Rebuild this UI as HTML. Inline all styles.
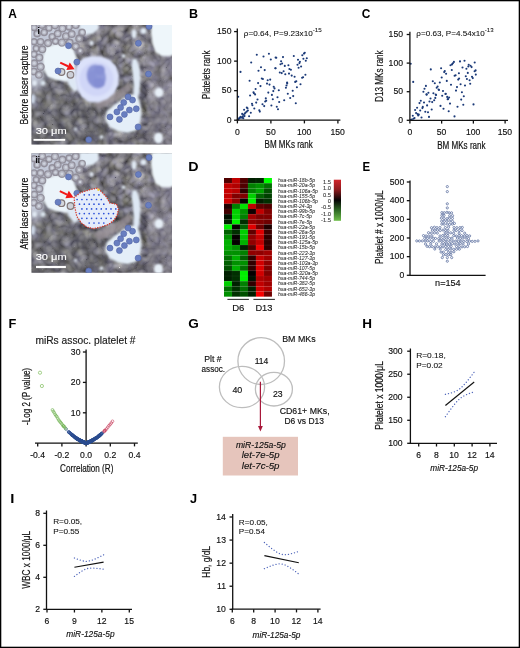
<!DOCTYPE html>
<html><head><meta charset="utf-8"><style>
html,body{margin:0;padding:0;background:#fff;width:520px;height:648px;overflow:hidden}
svg{display:block}
text{font-family:"Liberation Sans",sans-serif}
.tx{will-change:transform}
</style></head><body>
<svg width="520" height="648" viewBox="0 0 520 648" style="will-change:transform">
<rect x="0" y="0" width="520" height="648" fill="#fff"/>
<defs>
<filter id="texMass" x="0" y="0" width="1" height="1" color-interpolation-filters="sRGB">
<feTurbulence type="fractalNoise" baseFrequency="0.12" numOctaves="2" seed="5" result="n0"/>
<feColorMatrix in="n0" type="matrix" values="0.36 0.06 0 0 0.255  0.36 0.06 0 0 0.25  0.38 -0.1 0 0 0.345  0 0 0 0 1" result="n"/>
<feTurbulence type="turbulence" baseFrequency="0.07" numOctaves="2" seed="2" result="t0"/>
<feColorMatrix in="t0" type="matrix" values="1 0 0 0 0  1 0 0 0 0  1 0 0 0 0  0 0 0 0 1" result="t"/>
<feComposite in="n" in2="t" operator="arithmetic" k1="0" k2="1" k3="0.55" k4="-0.14" result="m"/>
<feGaussianBlur stdDeviation="0.5"/>
<feComposite in2="SourceAlpha" operator="in"/>
</filter>
<filter id="blurA" x="-20%" y="-20%" width="140%" height="140%"><feGaussianBlur stdDeviation="2.2"/></filter>
<filter id="blurA2" x="-20%" y="-20%" width="140%" height="140%"><feGaussianBlur stdDeviation="1.3"/></filter>
<filter id="blurC2" x="-20%" y="-20%" width="140%" height="140%"><feGaussianBlur stdDeviation="0.7"/></filter>
<filter id="blurB" x="-20%" y="-20%" width="140%" height="140%"><feGaussianBlur stdDeviation="0.55"/></filter>
<filter id="blurC" x="-20%" y="-20%" width="140%" height="140%"><feGaussianBlur stdDeviation="1.0"/></filter>
<clipPath id="clipA1"><rect x="31.5" y="25" width="140.5" height="119.6"/></clipPath>
<clipPath id="clipA2"><rect x="31.5" y="153.2" width="140.5" height="119.6"/></clipPath>
</defs>
<g clip-path="url(#clipA1)"><g transform="translate(31.5,25)"><rect x="-2" y="-5" width="145" height="131" fill="#000" filter="url(#texMass)"/>
<g filter="url(#blurA)">
<path d="M-5,-5 L48,-5 L50,6 L46,14 L44,22 L30,19 L14,22 L12,34 L12,62 L-5,62 Z" fill="rgb(200,207,222)" fill-opacity="0.95"/>
<path d="M-5,56 L9,55 L15,55 L20,54 L33,55.4 L40,63.5 L46.6,72.9 L56,78.3 L69.5,77 L73,86 L76,96 L76,125 L-5,125 Z" fill="rgb(88,86,98)" fill-opacity="0.28"/>
<path d="M46,-5 L145,-5 L145,125 L76,125 L76,108 L100,110 L114,104 L116,80 L112,60 L96,36 L86,40 L70,33 L52,30 L46,22 Z" fill="rgb(130,126,140)" fill-opacity="0.12"/>
<path d="M112,30 L145,30 L145,125 L112,125 L116,100 L116,80 Z" fill="rgb(150,148,170)" fill-opacity="0.25"/>
</g>
<g filter="url(#blurA2)">
<path d="M14,22 L24,19 L34,20 L42,24 L45,32 L44,40 L45,48 L44,56 L34,56.5 L24,55 L16,52 L12,44 L11,32 Z" fill="rgb(236,244,250)"/>
<path d="M34,48 L44,45 L46,56 L47,64 L43,67 L37,60 Z" fill="rgb(222,232,244)"/>
<path d="M48,-5 L67,-5 L67,4 L61,9 L52,10 L48,5 Z" fill="rgb(226,236,246)"/>
<path d="M120,-5 L145,-5 L145,29 L138,31 L130,31 L124,27 L121,19 L119.5,8 Z" fill="rgb(238,246,250)"/>
<path d="M101,34 L105,34 L108,42 L109,54 L108,66 L106,75 L102,74 L102,60 L101,48 L100,40 Z" fill="rgb(222,232,244)"/>
<ellipse cx="102.5" cy="9" rx="2.5" ry="4.5" fill="rgb(225,234,244)"/>
<ellipse cx="112" cy="6" rx="3" ry="3" fill="rgb(225,234,244)"/>
<path d="M75,86 L84,79 L92,73 L100,69 L106,71 L109,79 L110,90 L108,100 L104,106 L96,108 L86,106 L78,102 L74,95 Z" fill="rgb(228,238,248)"/>
<ellipse cx="127.5" cy="67.5" rx="4.5" ry="5" fill="rgb(232,240,248)"/>
<ellipse cx="127" cy="113" rx="4.5" ry="5.5" fill="rgb(232,240,248)"/>
<ellipse cx="1.5" cy="74" rx="2.5" ry="5" fill="rgb(205,215,230)"/>
<ellipse cx="11.5" cy="58" rx="2.5" ry="2.5" fill="rgb(220,230,240)"/>
<ellipse cx="3" cy="58" rx="2.5" ry="3" fill="rgb(226,234,244)"/>
<ellipse cx="20" cy="3" rx="2" ry="2" fill="rgb(226,234,244)"/>
<ellipse cx="60" cy="18" rx="2" ry="2.5" fill="rgb(226,234,244)"/>
<ellipse cx="92" cy="31" rx="2" ry="2" fill="rgb(226,234,244)"/>
<ellipse cx="70" cy="112" rx="2" ry="2" fill="rgb(226,234,244)"/>
<ellipse cx="44" cy="104" rx="1.5" ry="1.5" fill="rgb(226,234,244)"/>
<path d="M62,78 L74,72 L88,64 L97,58 L101,63 L92,71 L80,78 L68,84 Z" fill="rgb(152,144,150)" fill-opacity="0.75"/>
</g>
<g filter="url(#blurB)">
<circle cx="2.6" cy="2.6" r="3.1" fill="rgb(178,178,190)" fill-opacity="0.7" stroke="rgb(140,136,148)" stroke-width="1.4" stroke-opacity="0.85"/>
<circle cx="2.6" cy="2.6" r="1.2" fill="rgb(212,216,226)" fill-opacity="0.85"/>
<circle cx="10.7" cy="-0.0" r="3.3" fill="rgb(178,178,190)" fill-opacity="0.7" stroke="rgb(140,136,148)" stroke-width="1.4" stroke-opacity="0.85"/>
<circle cx="10.7" cy="-0.0" r="1.3" fill="rgb(212,216,226)" fill-opacity="0.85"/>
<circle cx="17.4" cy="3.0" r="3.1" fill="rgb(178,178,190)" fill-opacity="0.7" stroke="rgb(140,136,148)" stroke-width="1.4" stroke-opacity="0.85"/>
<circle cx="17.4" cy="3.0" r="1.3" fill="rgb(212,216,226)" fill-opacity="0.85"/>
<circle cx="23.5" cy="0.3" r="3.4" fill="rgb(178,178,190)" fill-opacity="0.7" stroke="rgb(140,136,148)" stroke-width="1.4" stroke-opacity="0.85"/>
<circle cx="23.5" cy="0.3" r="1.3" fill="rgb(212,216,226)" fill-opacity="0.85"/>
<circle cx="30.9" cy="3.5" r="3.4" fill="rgb(178,178,190)" fill-opacity="0.7" stroke="rgb(140,136,148)" stroke-width="1.4" stroke-opacity="0.85"/>
<circle cx="30.9" cy="3.5" r="1.4" fill="rgb(212,216,226)" fill-opacity="0.85"/>
<circle cx="37.6" cy="1.9" r="3.1" fill="rgb(178,178,190)" fill-opacity="0.7" stroke="rgb(140,136,148)" stroke-width="1.4" stroke-opacity="0.85"/>
<circle cx="37.6" cy="1.9" r="1.3" fill="rgb(212,216,226)" fill-opacity="0.85"/>
<circle cx="44.2" cy="0.1" r="3.3" fill="rgb(178,178,190)" fill-opacity="0.7" stroke="rgb(140,136,148)" stroke-width="1.4" stroke-opacity="0.85"/>
<circle cx="44.2" cy="0.1" r="1.3" fill="rgb(212,216,226)" fill-opacity="0.85"/>
<circle cx="5.6" cy="8.7" r="3.1" fill="rgb(178,178,190)" fill-opacity="0.7" stroke="rgb(140,136,148)" stroke-width="1.4" stroke-opacity="0.85"/>
<circle cx="5.6" cy="8.7" r="1.3" fill="rgb(212,216,226)" fill-opacity="0.85"/>
<circle cx="12.7" cy="7.4" r="3.1" fill="rgb(178,178,190)" fill-opacity="0.7" stroke="rgb(140,136,148)" stroke-width="1.4" stroke-opacity="0.85"/>
<circle cx="12.7" cy="7.4" r="1.2" fill="rgb(212,216,226)" fill-opacity="0.85"/>
<circle cx="20.7" cy="11.7" r="3.1" fill="rgb(178,178,190)" fill-opacity="0.7" stroke="rgb(140,136,148)" stroke-width="1.4" stroke-opacity="0.85"/>
<circle cx="20.7" cy="11.7" r="1.2" fill="rgb(212,216,226)" fill-opacity="0.85"/>
<circle cx="26.2" cy="8.5" r="3.3" fill="rgb(178,178,190)" fill-opacity="0.7" stroke="rgb(140,136,148)" stroke-width="1.4" stroke-opacity="0.85"/>
<circle cx="26.2" cy="8.5" r="1.3" fill="rgb(212,216,226)" fill-opacity="0.85"/>
<circle cx="34.4" cy="11.2" r="3.3" fill="rgb(178,178,190)" fill-opacity="0.7" stroke="rgb(140,136,148)" stroke-width="1.4" stroke-opacity="0.85"/>
<circle cx="34.4" cy="11.2" r="1.3" fill="rgb(212,216,226)" fill-opacity="0.85"/>
<circle cx="40.2" cy="9.0" r="3.3" fill="rgb(178,178,190)" fill-opacity="0.7" stroke="rgb(140,136,148)" stroke-width="1.4" stroke-opacity="0.85"/>
<circle cx="40.2" cy="9.0" r="1.3" fill="rgb(212,216,226)" fill-opacity="0.85"/>
<circle cx="47.8" cy="13.6" r="3.4" fill="rgb(178,178,190)" fill-opacity="0.7" stroke="rgb(140,136,148)" stroke-width="1.4" stroke-opacity="0.85"/>
<circle cx="47.8" cy="13.6" r="1.4" fill="rgb(212,216,226)" fill-opacity="0.85"/>
<circle cx="2.6" cy="16.7" r="3.0" fill="rgb(178,178,190)" fill-opacity="0.7" stroke="rgb(140,136,148)" stroke-width="1.4" stroke-opacity="0.85"/>
<circle cx="2.6" cy="16.7" r="1.2" fill="rgb(212,216,226)" fill-opacity="0.85"/>
<circle cx="9.0" cy="16.8" r="3.2" fill="rgb(178,178,190)" fill-opacity="0.7" stroke="rgb(140,136,148)" stroke-width="1.4" stroke-opacity="0.85"/>
<circle cx="9.0" cy="16.8" r="1.3" fill="rgb(212,216,226)" fill-opacity="0.85"/>
<circle cx="16.5" cy="18.1" r="3.4" fill="rgb(178,178,190)" fill-opacity="0.7" stroke="rgb(140,136,148)" stroke-width="1.4" stroke-opacity="0.85"/>
<circle cx="16.5" cy="18.1" r="1.4" fill="rgb(212,216,226)" fill-opacity="0.85"/>
<circle cx="24.0" cy="16.2" r="3.0" fill="rgb(178,178,190)" fill-opacity="0.7" stroke="rgb(140,136,148)" stroke-width="1.4" stroke-opacity="0.85"/>
<circle cx="24.0" cy="16.2" r="1.2" fill="rgb(212,216,226)" fill-opacity="0.85"/>
<circle cx="30.4" cy="17.6" r="3.5" fill="rgb(178,178,190)" fill-opacity="0.7" stroke="rgb(140,136,148)" stroke-width="1.4" stroke-opacity="0.85"/>
<circle cx="30.4" cy="17.6" r="1.4" fill="rgb(212,216,226)" fill-opacity="0.85"/>
<circle cx="38.2" cy="17.5" r="3.3" fill="rgb(178,178,190)" fill-opacity="0.7" stroke="rgb(140,136,148)" stroke-width="1.4" stroke-opacity="0.85"/>
<circle cx="38.2" cy="17.5" r="1.3" fill="rgb(212,216,226)" fill-opacity="0.85"/>
<circle cx="44.2" cy="21.5" r="3.5" fill="rgb(178,178,190)" fill-opacity="0.7" stroke="rgb(140,136,148)" stroke-width="1.4" stroke-opacity="0.85"/>
<circle cx="44.2" cy="21.5" r="1.4" fill="rgb(212,216,226)" fill-opacity="0.85"/>
<circle cx="4.7" cy="23.5" r="3.0" fill="rgb(178,178,190)" fill-opacity="0.7" stroke="rgb(140,136,148)" stroke-width="1.4" stroke-opacity="0.85"/>
<circle cx="4.7" cy="23.5" r="1.2" fill="rgb(212,216,226)" fill-opacity="0.85"/>
<circle cx="10.8" cy="24.3" r="3.3" fill="rgb(178,178,190)" fill-opacity="0.7" stroke="rgb(140,136,148)" stroke-width="1.4" stroke-opacity="0.85"/>
<circle cx="10.8" cy="24.3" r="1.3" fill="rgb(212,216,226)" fill-opacity="0.85"/>
<circle cx="2.5" cy="29.3" r="3.1" fill="rgb(178,178,190)" fill-opacity="0.7" stroke="rgb(140,136,148)" stroke-width="1.4" stroke-opacity="0.85"/>
<circle cx="2.5" cy="29.3" r="1.2" fill="rgb(212,216,226)" fill-opacity="0.85"/>
<circle cx="7.8" cy="32.6" r="3.4" fill="rgb(178,178,190)" fill-opacity="0.7" stroke="rgb(140,136,148)" stroke-width="1.4" stroke-opacity="0.85"/>
<circle cx="7.8" cy="32.6" r="1.4" fill="rgb(212,216,226)" fill-opacity="0.85"/>
<circle cx="2.8" cy="38.2" r="3.2" fill="rgb(178,178,190)" fill-opacity="0.7" stroke="rgb(140,136,148)" stroke-width="1.4" stroke-opacity="0.85"/>
<circle cx="2.8" cy="38.2" r="1.3" fill="rgb(212,216,226)" fill-opacity="0.85"/>
<circle cx="9.1" cy="41.7" r="3.5" fill="rgb(178,178,190)" fill-opacity="0.7" stroke="rgb(140,136,148)" stroke-width="1.4" stroke-opacity="0.85"/>
<circle cx="9.1" cy="41.7" r="1.4" fill="rgb(212,216,226)" fill-opacity="0.85"/>
<circle cx="2.4" cy="46.5" r="3.2" fill="rgb(178,178,190)" fill-opacity="0.7" stroke="rgb(140,136,148)" stroke-width="1.4" stroke-opacity="0.85"/>
<circle cx="2.4" cy="46.5" r="1.3" fill="rgb(212,216,226)" fill-opacity="0.85"/>
<circle cx="7.4" cy="49.8" r="3.3" fill="rgb(178,178,190)" fill-opacity="0.7" stroke="rgb(140,136,148)" stroke-width="1.4" stroke-opacity="0.85"/>
<circle cx="7.4" cy="49.8" r="1.3" fill="rgb(212,216,226)" fill-opacity="0.85"/>
<circle cx="48.7" cy="25.8" r="3.0" fill="rgb(178,178,190)" fill-opacity="0.7" stroke="rgb(140,136,148)" stroke-width="1.4" stroke-opacity="0.85"/>
<circle cx="48.7" cy="25.8" r="1.2" fill="rgb(212,216,226)" fill-opacity="0.85"/>
<circle cx="50.6" cy="7.4" r="3.2" fill="rgb(178,178,190)" fill-opacity="0.7" stroke="rgb(140,136,148)" stroke-width="1.4" stroke-opacity="0.85"/>
<circle cx="50.6" cy="7.4" r="1.3" fill="rgb(212,216,226)" fill-opacity="0.85"/>
<circle cx="39" cy="49.8" r="3.3" fill="rgb(190,185,190)" fill-opacity="0.5" stroke="rgb(130,118,118)" stroke-width="1.2"/>
<circle cx="30" cy="47" r="3.3" fill="rgb(190,185,190)" fill-opacity="0.5" stroke="rgb(130,118,118)" stroke-width="1.2"/>
</g>
<g filter="url(#blurC)">
<path d="M46,38 L52,33 L60,31 L70,31.5 L79,35 L85,42 L87.5,50 L87,60 L83,68 L76,74 L67,77.5 L57,77 L50,72 L45.5,64 L43.5,54 L44,45 Z" fill="rgb(220,226,250)"/>
<ellipse cx="65" cy="54" rx="17" ry="17" fill="rgb(208,214,247)"/>
<ellipse cx="64.8" cy="51.5" rx="9.6" ry="12.2" transform="rotate(-15 64.8 51.5)" fill="rgb(142,152,216)"/>
<ellipse cx="68" cy="45" rx="5.5" ry="5" fill="rgb(134,144,212)"/>
<ellipse cx="60.5" cy="52" rx="4.5" ry="6.5" fill="rgb(136,146,213)"/>
<ellipse cx="67.5" cy="58" rx="6" ry="5" fill="rgb(132,142,211)"/>
</g>
<g filter="url(#blurC2)">
<circle cx="101" cy="75" r="3.0" fill="rgb(104,126,192)" stroke="rgb(84,100,165)" stroke-width="0.6"/>
<circle cx="92.25" cy="77.5" r="3.0" fill="rgb(104,126,192)" stroke="rgb(84,100,165)" stroke-width="0.6"/>
<circle cx="89.1" cy="82.5" r="3.0" fill="rgb(104,126,192)" stroke="rgb(84,100,165)" stroke-width="0.6"/>
<circle cx="85.4" cy="86.9" r="3.0" fill="rgb(104,126,192)" stroke="rgb(84,100,165)" stroke-width="0.6"/>
<circle cx="97.9" cy="85" r="3.0" fill="rgb(104,126,192)" stroke="rgb(84,100,165)" stroke-width="0.6"/>
<circle cx="104.75" cy="83.75" r="3.0" fill="rgb(104,126,192)" stroke="rgb(84,100,165)" stroke-width="0.6"/>
<circle cx="92.9" cy="89.4" r="3.0" fill="rgb(104,126,192)" stroke="rgb(84,100,165)" stroke-width="0.6"/>
<circle cx="78.5" cy="91.9" r="3.0" fill="rgb(104,126,192)" stroke="rgb(84,100,165)" stroke-width="0.6"/>
<circle cx="87.9" cy="94.4" r="3.0" fill="rgb(104,126,192)" stroke="rgb(84,100,165)" stroke-width="0.6"/>
<circle cx="106.6" cy="101.9" r="3.0" fill="rgb(104,126,192)" stroke="rgb(84,100,165)" stroke-width="0.6"/>
<circle cx="96.6" cy="71.9" r="3.0" fill="rgb(104,126,192)" stroke="rgb(84,100,165)" stroke-width="0.6"/>
<circle cx="37" cy="20.7" r="3.0" fill="rgb(104,126,192)" stroke="rgb(84,100,165)" stroke-width="0.6"/>
<circle cx="45.3" cy="37.1" r="3.0" fill="rgb(104,126,192)" stroke="rgb(84,100,165)" stroke-width="0.6"/>
<circle cx="117" cy="49" r="3.0" fill="rgb(104,126,192)" stroke="rgb(84,100,165)" stroke-width="0.6"/>
<circle cx="57.2" cy="114.7" r="3.0" fill="rgb(104,126,192)" stroke="rgb(84,100,165)" stroke-width="0.6"/>
<circle cx="117.5" cy="1.4" r="3.0" fill="rgb(104,126,192)" stroke="rgb(84,100,165)" stroke-width="0.6"/>
<circle cx="106.9" cy="18.3" r="3.0" fill="rgb(104,126,192)" stroke="rgb(84,100,165)" stroke-width="0.6"/>
<circle cx="26.5" cy="46" r="3.0" fill="rgb(104,126,192)" stroke="rgb(84,100,165)" stroke-width="0.6"/>
</g></g></g>
<g clip-path="url(#clipA2)"><g transform="translate(31.5,156.2)"><rect x="-2" y="-5" width="145" height="131" fill="#000" filter="url(#texMass)"/>
<g filter="url(#blurA)">
<path d="M-5,-5 L48,-5 L50,6 L46,14 L44,22 L30,19 L14,22 L12,34 L12,62 L-5,62 Z" fill="rgb(200,207,222)" fill-opacity="0.95"/>
<path d="M-5,56 L9,55 L15,55 L20,54 L33,55.4 L40,63.5 L46.6,72.9 L56,78.3 L69.5,77 L73,86 L76,96 L76,125 L-5,125 Z" fill="rgb(88,86,98)" fill-opacity="0.28"/>
<path d="M46,-5 L145,-5 L145,125 L76,125 L76,108 L100,110 L114,104 L116,80 L112,60 L96,36 L86,40 L70,33 L52,30 L46,22 Z" fill="rgb(130,126,140)" fill-opacity="0.12"/>
<path d="M112,30 L145,30 L145,125 L112,125 L116,100 L116,80 Z" fill="rgb(150,148,170)" fill-opacity="0.25"/>
</g>
<g filter="url(#blurA2)">
<path d="M14,22 L24,19 L34,20 L42,24 L45,32 L44,40 L45,48 L44,56 L34,56.5 L24,55 L16,52 L12,44 L11,32 Z" fill="rgb(236,244,250)"/>
<path d="M34,48 L44,45 L46,56 L47,64 L43,67 L37,60 Z" fill="rgb(222,232,244)"/>
<path d="M48,-5 L67,-5 L67,4 L61,9 L52,10 L48,5 Z" fill="rgb(226,236,246)"/>
<path d="M120,-5 L145,-5 L145,29 L138,31 L130,31 L124,27 L121,19 L119.5,8 Z" fill="rgb(238,246,250)"/>
<path d="M101,34 L105,34 L108,42 L109,54 L108,66 L106,75 L102,74 L102,60 L101,48 L100,40 Z" fill="rgb(222,232,244)"/>
<ellipse cx="102.5" cy="9" rx="2.5" ry="4.5" fill="rgb(225,234,244)"/>
<ellipse cx="112" cy="6" rx="3" ry="3" fill="rgb(225,234,244)"/>
<path d="M75,86 L84,79 L92,73 L100,69 L106,71 L109,79 L110,90 L108,100 L104,106 L96,108 L86,106 L78,102 L74,95 Z" fill="rgb(228,238,248)"/>
<ellipse cx="127.5" cy="67.5" rx="4.5" ry="5" fill="rgb(232,240,248)"/>
<ellipse cx="127" cy="113" rx="4.5" ry="5.5" fill="rgb(232,240,248)"/>
<ellipse cx="1.5" cy="74" rx="2.5" ry="5" fill="rgb(205,215,230)"/>
<ellipse cx="11.5" cy="58" rx="2.5" ry="2.5" fill="rgb(220,230,240)"/>
<ellipse cx="3" cy="58" rx="2.5" ry="3" fill="rgb(226,234,244)"/>
<ellipse cx="20" cy="3" rx="2" ry="2" fill="rgb(226,234,244)"/>
<ellipse cx="60" cy="18" rx="2" ry="2.5" fill="rgb(226,234,244)"/>
<ellipse cx="92" cy="31" rx="2" ry="2" fill="rgb(226,234,244)"/>
<ellipse cx="70" cy="112" rx="2" ry="2" fill="rgb(226,234,244)"/>
<ellipse cx="44" cy="104" rx="1.5" ry="1.5" fill="rgb(226,234,244)"/>
<path d="M62,78 L74,72 L88,64 L97,58 L101,63 L92,71 L80,78 L68,84 Z" fill="rgb(152,144,150)" fill-opacity="0.75"/>
</g>
<g filter="url(#blurB)">
<circle cx="2.6" cy="2.6" r="3.1" fill="rgb(178,178,190)" fill-opacity="0.7" stroke="rgb(140,136,148)" stroke-width="1.4" stroke-opacity="0.85"/>
<circle cx="2.6" cy="2.6" r="1.2" fill="rgb(212,216,226)" fill-opacity="0.85"/>
<circle cx="10.7" cy="-0.0" r="3.3" fill="rgb(178,178,190)" fill-opacity="0.7" stroke="rgb(140,136,148)" stroke-width="1.4" stroke-opacity="0.85"/>
<circle cx="10.7" cy="-0.0" r="1.3" fill="rgb(212,216,226)" fill-opacity="0.85"/>
<circle cx="17.4" cy="3.0" r="3.1" fill="rgb(178,178,190)" fill-opacity="0.7" stroke="rgb(140,136,148)" stroke-width="1.4" stroke-opacity="0.85"/>
<circle cx="17.4" cy="3.0" r="1.3" fill="rgb(212,216,226)" fill-opacity="0.85"/>
<circle cx="23.5" cy="0.3" r="3.4" fill="rgb(178,178,190)" fill-opacity="0.7" stroke="rgb(140,136,148)" stroke-width="1.4" stroke-opacity="0.85"/>
<circle cx="23.5" cy="0.3" r="1.3" fill="rgb(212,216,226)" fill-opacity="0.85"/>
<circle cx="30.9" cy="3.5" r="3.4" fill="rgb(178,178,190)" fill-opacity="0.7" stroke="rgb(140,136,148)" stroke-width="1.4" stroke-opacity="0.85"/>
<circle cx="30.9" cy="3.5" r="1.4" fill="rgb(212,216,226)" fill-opacity="0.85"/>
<circle cx="37.6" cy="1.9" r="3.1" fill="rgb(178,178,190)" fill-opacity="0.7" stroke="rgb(140,136,148)" stroke-width="1.4" stroke-opacity="0.85"/>
<circle cx="37.6" cy="1.9" r="1.3" fill="rgb(212,216,226)" fill-opacity="0.85"/>
<circle cx="44.2" cy="0.1" r="3.3" fill="rgb(178,178,190)" fill-opacity="0.7" stroke="rgb(140,136,148)" stroke-width="1.4" stroke-opacity="0.85"/>
<circle cx="44.2" cy="0.1" r="1.3" fill="rgb(212,216,226)" fill-opacity="0.85"/>
<circle cx="5.6" cy="8.7" r="3.1" fill="rgb(178,178,190)" fill-opacity="0.7" stroke="rgb(140,136,148)" stroke-width="1.4" stroke-opacity="0.85"/>
<circle cx="5.6" cy="8.7" r="1.3" fill="rgb(212,216,226)" fill-opacity="0.85"/>
<circle cx="12.7" cy="7.4" r="3.1" fill="rgb(178,178,190)" fill-opacity="0.7" stroke="rgb(140,136,148)" stroke-width="1.4" stroke-opacity="0.85"/>
<circle cx="12.7" cy="7.4" r="1.2" fill="rgb(212,216,226)" fill-opacity="0.85"/>
<circle cx="20.7" cy="11.7" r="3.1" fill="rgb(178,178,190)" fill-opacity="0.7" stroke="rgb(140,136,148)" stroke-width="1.4" stroke-opacity="0.85"/>
<circle cx="20.7" cy="11.7" r="1.2" fill="rgb(212,216,226)" fill-opacity="0.85"/>
<circle cx="26.2" cy="8.5" r="3.3" fill="rgb(178,178,190)" fill-opacity="0.7" stroke="rgb(140,136,148)" stroke-width="1.4" stroke-opacity="0.85"/>
<circle cx="26.2" cy="8.5" r="1.3" fill="rgb(212,216,226)" fill-opacity="0.85"/>
<circle cx="34.4" cy="11.2" r="3.3" fill="rgb(178,178,190)" fill-opacity="0.7" stroke="rgb(140,136,148)" stroke-width="1.4" stroke-opacity="0.85"/>
<circle cx="34.4" cy="11.2" r="1.3" fill="rgb(212,216,226)" fill-opacity="0.85"/>
<circle cx="40.2" cy="9.0" r="3.3" fill="rgb(178,178,190)" fill-opacity="0.7" stroke="rgb(140,136,148)" stroke-width="1.4" stroke-opacity="0.85"/>
<circle cx="40.2" cy="9.0" r="1.3" fill="rgb(212,216,226)" fill-opacity="0.85"/>
<circle cx="47.8" cy="13.6" r="3.4" fill="rgb(178,178,190)" fill-opacity="0.7" stroke="rgb(140,136,148)" stroke-width="1.4" stroke-opacity="0.85"/>
<circle cx="47.8" cy="13.6" r="1.4" fill="rgb(212,216,226)" fill-opacity="0.85"/>
<circle cx="2.6" cy="16.7" r="3.0" fill="rgb(178,178,190)" fill-opacity="0.7" stroke="rgb(140,136,148)" stroke-width="1.4" stroke-opacity="0.85"/>
<circle cx="2.6" cy="16.7" r="1.2" fill="rgb(212,216,226)" fill-opacity="0.85"/>
<circle cx="9.0" cy="16.8" r="3.2" fill="rgb(178,178,190)" fill-opacity="0.7" stroke="rgb(140,136,148)" stroke-width="1.4" stroke-opacity="0.85"/>
<circle cx="9.0" cy="16.8" r="1.3" fill="rgb(212,216,226)" fill-opacity="0.85"/>
<circle cx="16.5" cy="18.1" r="3.4" fill="rgb(178,178,190)" fill-opacity="0.7" stroke="rgb(140,136,148)" stroke-width="1.4" stroke-opacity="0.85"/>
<circle cx="16.5" cy="18.1" r="1.4" fill="rgb(212,216,226)" fill-opacity="0.85"/>
<circle cx="24.0" cy="16.2" r="3.0" fill="rgb(178,178,190)" fill-opacity="0.7" stroke="rgb(140,136,148)" stroke-width="1.4" stroke-opacity="0.85"/>
<circle cx="24.0" cy="16.2" r="1.2" fill="rgb(212,216,226)" fill-opacity="0.85"/>
<circle cx="30.4" cy="17.6" r="3.5" fill="rgb(178,178,190)" fill-opacity="0.7" stroke="rgb(140,136,148)" stroke-width="1.4" stroke-opacity="0.85"/>
<circle cx="30.4" cy="17.6" r="1.4" fill="rgb(212,216,226)" fill-opacity="0.85"/>
<circle cx="38.2" cy="17.5" r="3.3" fill="rgb(178,178,190)" fill-opacity="0.7" stroke="rgb(140,136,148)" stroke-width="1.4" stroke-opacity="0.85"/>
<circle cx="38.2" cy="17.5" r="1.3" fill="rgb(212,216,226)" fill-opacity="0.85"/>
<circle cx="44.2" cy="21.5" r="3.5" fill="rgb(178,178,190)" fill-opacity="0.7" stroke="rgb(140,136,148)" stroke-width="1.4" stroke-opacity="0.85"/>
<circle cx="44.2" cy="21.5" r="1.4" fill="rgb(212,216,226)" fill-opacity="0.85"/>
<circle cx="4.7" cy="23.5" r="3.0" fill="rgb(178,178,190)" fill-opacity="0.7" stroke="rgb(140,136,148)" stroke-width="1.4" stroke-opacity="0.85"/>
<circle cx="4.7" cy="23.5" r="1.2" fill="rgb(212,216,226)" fill-opacity="0.85"/>
<circle cx="10.8" cy="24.3" r="3.3" fill="rgb(178,178,190)" fill-opacity="0.7" stroke="rgb(140,136,148)" stroke-width="1.4" stroke-opacity="0.85"/>
<circle cx="10.8" cy="24.3" r="1.3" fill="rgb(212,216,226)" fill-opacity="0.85"/>
<circle cx="2.5" cy="29.3" r="3.1" fill="rgb(178,178,190)" fill-opacity="0.7" stroke="rgb(140,136,148)" stroke-width="1.4" stroke-opacity="0.85"/>
<circle cx="2.5" cy="29.3" r="1.2" fill="rgb(212,216,226)" fill-opacity="0.85"/>
<circle cx="7.8" cy="32.6" r="3.4" fill="rgb(178,178,190)" fill-opacity="0.7" stroke="rgb(140,136,148)" stroke-width="1.4" stroke-opacity="0.85"/>
<circle cx="7.8" cy="32.6" r="1.4" fill="rgb(212,216,226)" fill-opacity="0.85"/>
<circle cx="2.8" cy="38.2" r="3.2" fill="rgb(178,178,190)" fill-opacity="0.7" stroke="rgb(140,136,148)" stroke-width="1.4" stroke-opacity="0.85"/>
<circle cx="2.8" cy="38.2" r="1.3" fill="rgb(212,216,226)" fill-opacity="0.85"/>
<circle cx="9.1" cy="41.7" r="3.5" fill="rgb(178,178,190)" fill-opacity="0.7" stroke="rgb(140,136,148)" stroke-width="1.4" stroke-opacity="0.85"/>
<circle cx="9.1" cy="41.7" r="1.4" fill="rgb(212,216,226)" fill-opacity="0.85"/>
<circle cx="2.4" cy="46.5" r="3.2" fill="rgb(178,178,190)" fill-opacity="0.7" stroke="rgb(140,136,148)" stroke-width="1.4" stroke-opacity="0.85"/>
<circle cx="2.4" cy="46.5" r="1.3" fill="rgb(212,216,226)" fill-opacity="0.85"/>
<circle cx="7.4" cy="49.8" r="3.3" fill="rgb(178,178,190)" fill-opacity="0.7" stroke="rgb(140,136,148)" stroke-width="1.4" stroke-opacity="0.85"/>
<circle cx="7.4" cy="49.8" r="1.3" fill="rgb(212,216,226)" fill-opacity="0.85"/>
<circle cx="48.7" cy="25.8" r="3.0" fill="rgb(178,178,190)" fill-opacity="0.7" stroke="rgb(140,136,148)" stroke-width="1.4" stroke-opacity="0.85"/>
<circle cx="48.7" cy="25.8" r="1.2" fill="rgb(212,216,226)" fill-opacity="0.85"/>
<circle cx="50.6" cy="7.4" r="3.2" fill="rgb(178,178,190)" fill-opacity="0.7" stroke="rgb(140,136,148)" stroke-width="1.4" stroke-opacity="0.85"/>
<circle cx="50.6" cy="7.4" r="1.3" fill="rgb(212,216,226)" fill-opacity="0.85"/>
<circle cx="39" cy="49.8" r="3.3" fill="rgb(190,185,190)" fill-opacity="0.5" stroke="rgb(130,118,118)" stroke-width="1.2"/>
<circle cx="30" cy="47" r="3.3" fill="rgb(190,185,190)" fill-opacity="0.5" stroke="rgb(130,118,118)" stroke-width="1.2"/>
</g>
<g filter="url(#blurC2)">
<circle cx="101" cy="75" r="3.0" fill="rgb(104,126,192)" stroke="rgb(84,100,165)" stroke-width="0.6"/>
<circle cx="92.25" cy="77.5" r="3.0" fill="rgb(104,126,192)" stroke="rgb(84,100,165)" stroke-width="0.6"/>
<circle cx="89.1" cy="82.5" r="3.0" fill="rgb(104,126,192)" stroke="rgb(84,100,165)" stroke-width="0.6"/>
<circle cx="85.4" cy="86.9" r="3.0" fill="rgb(104,126,192)" stroke="rgb(84,100,165)" stroke-width="0.6"/>
<circle cx="97.9" cy="85" r="3.0" fill="rgb(104,126,192)" stroke="rgb(84,100,165)" stroke-width="0.6"/>
<circle cx="104.75" cy="83.75" r="3.0" fill="rgb(104,126,192)" stroke="rgb(84,100,165)" stroke-width="0.6"/>
<circle cx="92.9" cy="89.4" r="3.0" fill="rgb(104,126,192)" stroke="rgb(84,100,165)" stroke-width="0.6"/>
<circle cx="78.5" cy="91.9" r="3.0" fill="rgb(104,126,192)" stroke="rgb(84,100,165)" stroke-width="0.6"/>
<circle cx="87.9" cy="94.4" r="3.0" fill="rgb(104,126,192)" stroke="rgb(84,100,165)" stroke-width="0.6"/>
<circle cx="106.6" cy="101.9" r="3.0" fill="rgb(104,126,192)" stroke="rgb(84,100,165)" stroke-width="0.6"/>
<circle cx="96.6" cy="71.9" r="3.0" fill="rgb(104,126,192)" stroke="rgb(84,100,165)" stroke-width="0.6"/>
<circle cx="37" cy="20.7" r="3.0" fill="rgb(104,126,192)" stroke="rgb(84,100,165)" stroke-width="0.6"/>
<circle cx="45.3" cy="37.1" r="3.0" fill="rgb(104,126,192)" stroke="rgb(84,100,165)" stroke-width="0.6"/>
<circle cx="117" cy="49" r="3.0" fill="rgb(104,126,192)" stroke="rgb(84,100,165)" stroke-width="0.6"/>
<circle cx="57.2" cy="114.7" r="3.0" fill="rgb(104,126,192)" stroke="rgb(84,100,165)" stroke-width="0.6"/>
<circle cx="117.5" cy="1.4" r="3.0" fill="rgb(104,126,192)" stroke="rgb(84,100,165)" stroke-width="0.6"/>
<circle cx="106.9" cy="18.3" r="3.0" fill="rgb(104,126,192)" stroke="rgb(84,100,165)" stroke-width="0.6"/>
<circle cx="26.5" cy="46" r="3.0" fill="rgb(104,126,192)" stroke="rgb(84,100,165)" stroke-width="0.6"/>
</g></g>
<path d="M74.1,197.5 L80.2,192.8 L91,189.4 L97.7,188.1 L100.4,190.8 L105.8,196.2 L109.8,202.9 L116.5,204.2 L118.5,208.9 L117.2,215 L113.8,220.4 L108.5,224.4 L100.4,227.1 L93.6,228.7 L86.9,227.1 L81.5,223.1 L76.8,216.3 L74.8,206.9 Z" fill="rgb(228,236,250)" filter="url(#blurB)"/>
<clipPath id="capclip"><path d="M74.1,197.5 L80.2,192.8 L91,189.4 L97.7,188.1 L100.4,190.8 L105.8,196.2 L109.8,202.9 L116.5,204.2 L118.5,208.9 L117.2,215 L113.8,220.4 L108.5,224.4 L100.4,227.1 L93.6,228.7 L86.9,227.1 L81.5,223.1 L76.8,216.3 L74.8,206.9 Z"/></clipPath>
<g clip-path="url(#capclip)"><circle cx="84.3" cy="194.8" r="0.85" fill="#2a4fd8"/><circle cx="89.2" cy="194.8" r="0.85" fill="#2a4fd8"/><circle cx="94.0" cy="194.8" r="0.85" fill="#2a4fd8"/><circle cx="98.9" cy="194.8" r="0.85" fill="#2a4fd8"/><circle cx="77.1" cy="199.5" r="0.85" fill="#2a4fd8"/><circle cx="81.9" cy="199.5" r="0.85" fill="#2a4fd8"/><circle cx="86.8" cy="199.5" r="0.85" fill="#2a4fd8"/><circle cx="91.6" cy="199.5" r="0.85" fill="#2a4fd8"/><circle cx="96.5" cy="199.5" r="0.85" fill="#2a4fd8"/><circle cx="101.3" cy="199.5" r="0.85" fill="#2a4fd8"/><circle cx="79.5" cy="204.2" r="0.85" fill="#2a4fd8"/><circle cx="84.3" cy="204.2" r="0.85" fill="#2a4fd8"/><circle cx="89.2" cy="204.2" r="0.85" fill="#2a4fd8"/><circle cx="94.0" cy="204.2" r="0.85" fill="#2a4fd8"/><circle cx="98.9" cy="204.2" r="0.85" fill="#2a4fd8"/><circle cx="103.8" cy="204.2" r="0.85" fill="#2a4fd8"/><circle cx="81.9" cy="208.9" r="0.85" fill="#2a4fd8"/><circle cx="86.8" cy="208.9" r="0.85" fill="#2a4fd8"/><circle cx="91.6" cy="208.9" r="0.85" fill="#2a4fd8"/><circle cx="96.5" cy="208.9" r="0.85" fill="#2a4fd8"/><circle cx="101.3" cy="208.9" r="0.85" fill="#2a4fd8"/><circle cx="106.2" cy="208.9" r="0.85" fill="#2a4fd8"/><circle cx="111.0" cy="208.9" r="0.85" fill="#2a4fd8"/><circle cx="115.8" cy="208.9" r="0.85" fill="#2a4fd8"/><circle cx="79.5" cy="213.6" r="0.85" fill="#2a4fd8"/><circle cx="84.3" cy="213.6" r="0.85" fill="#2a4fd8"/><circle cx="89.2" cy="213.6" r="0.85" fill="#2a4fd8"/><circle cx="94.0" cy="213.6" r="0.85" fill="#2a4fd8"/><circle cx="98.9" cy="213.6" r="0.85" fill="#2a4fd8"/><circle cx="103.8" cy="213.6" r="0.85" fill="#2a4fd8"/><circle cx="108.6" cy="213.6" r="0.85" fill="#2a4fd8"/><circle cx="113.4" cy="213.6" r="0.85" fill="#2a4fd8"/><circle cx="81.9" cy="218.3" r="0.85" fill="#2a4fd8"/><circle cx="86.8" cy="218.3" r="0.85" fill="#2a4fd8"/><circle cx="91.6" cy="218.3" r="0.85" fill="#2a4fd8"/><circle cx="96.5" cy="218.3" r="0.85" fill="#2a4fd8"/><circle cx="101.3" cy="218.3" r="0.85" fill="#2a4fd8"/><circle cx="106.2" cy="218.3" r="0.85" fill="#2a4fd8"/><circle cx="111.0" cy="218.3" r="0.85" fill="#2a4fd8"/><circle cx="89.2" cy="223.0" r="0.85" fill="#2a4fd8"/><circle cx="94.0" cy="223.0" r="0.85" fill="#2a4fd8"/><circle cx="98.9" cy="223.0" r="0.85" fill="#2a4fd8"/><circle cx="103.8" cy="223.0" r="0.85" fill="#2a4fd8"/></g>
<path d="M74.1,197.5 L80.2,192.8 L91,189.4 L97.7,188.1 L100.4,190.8 L105.8,196.2 L109.8,202.9 L116.5,204.2 L118.5,208.9 L117.2,215 L113.8,220.4 L108.5,224.4 L100.4,227.1 L93.6,228.7 L86.9,227.1 L81.5,223.1 L76.8,216.3 L74.8,206.9 Z" fill="none" stroke="#d8362a" stroke-width="1.4" stroke-dasharray="0.1 2.4" stroke-linecap="round"/>
<circle cx="98.4" cy="189.7" r="1.2" fill="#f0d040"/>
</g>
<line x1="60.2" y1="62.7" x2="68.04" y2="66.24" stroke="#f21818" stroke-width="2.0"/>
<path d="M74.6,69.2 L66.35,69.97 L69.72,62.50 Z" fill="#f21818"/>
<line x1="59.8" y1="191.2" x2="67.07" y2="194.57" stroke="#f21818" stroke-width="2.0"/>
<path d="M73.6,197.6 L65.34,198.29 L68.79,190.85 Z" fill="#f21818"/>
<text transform="translate(37.60,33.80) scale(1.0000,1)" font-size="8.5" font-weight="bold" fill="#000">i</text>
<text transform="translate(35.44,162.80) scale(0.9286,1)" font-size="8.5" font-weight="bold" fill="#000">ii</text>
<text transform="translate(35.65,133.90) scale(1.1549,1)" font-size="9.6" fill="#fff" stroke="#fff" stroke-width="0.130">30 μm</text>
<rect x="33.5" y="138.9" width="31.7" height="1.9" fill="#fff"/>
<text transform="translate(35.65,259.90) scale(1.1549,1)" font-size="9.6" fill="#fff" stroke="#fff" stroke-width="0.130">30 μm</text>
<rect x="36.0" y="265.9" width="29.9" height="2.2" fill="#fff"/>
<text transform="translate(28.10,124.49) rotate(-90) scale(0.8624,1)" font-size="10.2" fill="#111" stroke="#111" stroke-width="0.174">Before laser capture</text>
<text transform="translate(28.40,249.60) rotate(-90) scale(0.8654,1)" font-size="10.2" fill="#111" stroke="#111" stroke-width="0.173">After laser capture</text>
<text transform="translate(8.32,18.20) scale(0.9205,1)" font-size="13" font-weight="bold" fill="#000">A</text>
<text transform="translate(189.03,18.20) scale(0.9625,1)" font-size="13" font-weight="bold" fill="#000">B</text>
<text transform="translate(361.64,18.20) scale(0.9186,1)" font-size="13" font-weight="bold" fill="#000">C</text>
<text transform="translate(188.32,171.20) scale(1.0988,1)" font-size="13" font-weight="bold" fill="#000">D</text>
<text transform="translate(362.40,171.30) scale(0.8784,1)" font-size="13" font-weight="bold" fill="#000">E</text>
<text transform="translate(8.41,328.10) scale(0.9851,1)" font-size="13" font-weight="bold" fill="#000">F</text>
<text transform="translate(188.28,328.30) scale(1.0449,1)" font-size="13" font-weight="bold" fill="#000">G</text>
<text transform="translate(362.27,328.10) scale(1.0385,1)" font-size="13" font-weight="bold" fill="#000">H</text>
<text transform="translate(10.28,502.70) scale(1.1500,1)" font-size="13" font-weight="bold" fill="#000">I</text>
<text transform="translate(189.90,502.70) scale(0.9841,1)" font-size="13" font-weight="bold" fill="#000">J</text>
<circle cx="256.8" cy="54.8" r="1.05" fill="#1b3a78"/>
<circle cx="268.9" cy="53.7" r="1.05" fill="#1b3a78"/>
<circle cx="263.5" cy="56.5" r="1.05" fill="#1b3a78"/>
<circle cx="270.8" cy="59.5" r="1.05" fill="#1b3a78"/>
<circle cx="275.6" cy="57.5" r="1.05" fill="#1b3a78"/>
<circle cx="251.2" cy="62.5" r="1.05" fill="#1b3a78"/>
<circle cx="261.0" cy="67.2" r="1.05" fill="#1b3a78"/>
<circle cx="258.5" cy="70.8" r="1.05" fill="#1b3a78"/>
<circle cx="264.7" cy="70.1" r="1.05" fill="#1b3a78"/>
<circle cx="275.4" cy="68.2" r="1.05" fill="#1b3a78"/>
<circle cx="240.5" cy="71.9" r="1.05" fill="#1b3a78"/>
<circle cx="261.8" cy="78.5" r="1.05" fill="#1b3a78"/>
<circle cx="262.9" cy="79.0" r="1.05" fill="#1b3a78"/>
<circle cx="249.6" cy="80.8" r="1.05" fill="#1b3a78"/>
<circle cx="267.7" cy="80.2" r="1.05" fill="#1b3a78"/>
<circle cx="270.2" cy="79.6" r="1.05" fill="#1b3a78"/>
<circle cx="258.1" cy="83.1" r="1.05" fill="#1b3a78"/>
<circle cx="267.0" cy="83.6" r="1.05" fill="#1b3a78"/>
<circle cx="269.5" cy="84.6" r="1.05" fill="#1b3a78"/>
<circle cx="276.3" cy="57.7" r="1.05" fill="#1b3a78"/>
<circle cx="283.0" cy="57.1" r="1.05" fill="#1b3a78"/>
<circle cx="293.8" cy="56.0" r="1.05" fill="#1b3a78"/>
<circle cx="302.3" cy="55.2" r="1.05" fill="#1b3a78"/>
<circle cx="304.0" cy="53.6" r="1.05" fill="#1b3a78"/>
<circle cx="304.8" cy="52.8" r="1.05" fill="#1b3a78"/>
<circle cx="303.4" cy="58.8" r="1.05" fill="#1b3a78"/>
<circle cx="306.8" cy="58.3" r="1.05" fill="#1b3a78"/>
<circle cx="305.8" cy="60.8" r="1.05" fill="#1b3a78"/>
<circle cx="298.0" cy="59.8" r="1.05" fill="#1b3a78"/>
<circle cx="281.1" cy="61.2" r="1.05" fill="#1b3a78"/>
<circle cx="280.5" cy="64.2" r="1.05" fill="#1b3a78"/>
<circle cx="282.1" cy="63.5" r="1.05" fill="#1b3a78"/>
<circle cx="284.8" cy="65.9" r="1.05" fill="#1b3a78"/>
<circle cx="288.4" cy="65.2" r="1.05" fill="#1b3a78"/>
<circle cx="299.9" cy="61.8" r="1.05" fill="#1b3a78"/>
<circle cx="299.4" cy="63.1" r="1.05" fill="#1b3a78"/>
<circle cx="297.5" cy="64.8" r="1.05" fill="#1b3a78"/>
<circle cx="301.1" cy="66.5" r="1.05" fill="#1b3a78"/>
<circle cx="298.6" cy="67.8" r="1.05" fill="#1b3a78"/>
<circle cx="275.5" cy="68.2" r="1.05" fill="#1b3a78"/>
<circle cx="289.4" cy="69.0" r="1.05" fill="#1b3a78"/>
<circle cx="290.9" cy="69.8" r="1.05" fill="#1b3a78"/>
<circle cx="283.6" cy="71.2" r="1.05" fill="#1b3a78"/>
<circle cx="279.8" cy="72.5" r="1.05" fill="#1b3a78"/>
<circle cx="281.7" cy="73.1" r="1.05" fill="#1b3a78"/>
<circle cx="285.3" cy="74.2" r="1.05" fill="#1b3a78"/>
<circle cx="289.0" cy="73.6" r="1.05" fill="#1b3a78"/>
<circle cx="291.7" cy="75.6" r="1.05" fill="#1b3a78"/>
<circle cx="294.6" cy="76.7" r="1.05" fill="#1b3a78"/>
<circle cx="302.1" cy="77.7" r="1.05" fill="#1b3a78"/>
<circle cx="303.1" cy="77.3" r="1.05" fill="#1b3a78"/>
<circle cx="305.4" cy="74.7" r="1.05" fill="#1b3a78"/>
<circle cx="287.1" cy="82.5" r="1.05" fill="#1b3a78"/>
<circle cx="295.2" cy="81.9" r="1.05" fill="#1b3a78"/>
<circle cx="296.3" cy="81.2" r="1.05" fill="#1b3a78"/>
<circle cx="300.5" cy="84.2" r="1.05" fill="#1b3a78"/>
<circle cx="260.5" cy="86.1" r="1.05" fill="#1b3a78"/>
<circle cx="273.7" cy="86.8" r="1.05" fill="#1b3a78"/>
<circle cx="274.5" cy="88.4" r="1.05" fill="#1b3a78"/>
<circle cx="255.6" cy="89.0" r="1.05" fill="#1b3a78"/>
<circle cx="253.5" cy="92.2" r="1.05" fill="#1b3a78"/>
<circle cx="253.9" cy="93.2" r="1.05" fill="#1b3a78"/>
<circle cx="255.1" cy="94.4" r="1.05" fill="#1b3a78"/>
<circle cx="250.1" cy="95.5" r="1.05" fill="#1b3a78"/>
<circle cx="268.3" cy="92.6" r="1.05" fill="#1b3a78"/>
<circle cx="273.3" cy="91.1" r="1.05" fill="#1b3a78"/>
<circle cx="271.9" cy="94.9" r="1.05" fill="#1b3a78"/>
<circle cx="272.8" cy="99.2" r="1.05" fill="#1b3a78"/>
<circle cx="238.2" cy="96.8" r="1.05" fill="#1b3a78"/>
<circle cx="257.5" cy="99.5" r="1.05" fill="#1b3a78"/>
<circle cx="265.8" cy="98.4" r="1.05" fill="#1b3a78"/>
<circle cx="266.2" cy="100.7" r="1.05" fill="#1b3a78"/>
<circle cx="265.2" cy="101.5" r="1.05" fill="#1b3a78"/>
<circle cx="256.2" cy="102.6" r="1.05" fill="#1b3a78"/>
<circle cx="252.0" cy="103.8" r="1.05" fill="#1b3a78"/>
<circle cx="252.4" cy="105.2" r="1.05" fill="#1b3a78"/>
<circle cx="262.5" cy="104.2" r="1.05" fill="#1b3a78"/>
<circle cx="264.2" cy="106.1" r="1.05" fill="#1b3a78"/>
<circle cx="271.4" cy="105.5" r="1.05" fill="#1b3a78"/>
<circle cx="246.8" cy="107.5" r="1.05" fill="#1b3a78"/>
<circle cx="247.5" cy="108.2" r="1.05" fill="#1b3a78"/>
<circle cx="254.3" cy="108.5" r="1.05" fill="#1b3a78"/>
<circle cx="244.1" cy="109.8" r="1.05" fill="#1b3a78"/>
<circle cx="247.9" cy="110.5" r="1.05" fill="#1b3a78"/>
<circle cx="246.8" cy="111.6" r="1.05" fill="#1b3a78"/>
<circle cx="245.6" cy="112.6" r="1.05" fill="#1b3a78"/>
<circle cx="244.8" cy="113.6" r="1.05" fill="#1b3a78"/>
<circle cx="250.8" cy="112.7" r="1.05" fill="#1b3a78"/>
<circle cx="259.3" cy="110.3" r="1.05" fill="#1b3a78"/>
<circle cx="259.8" cy="111.6" r="1.05" fill="#1b3a78"/>
<circle cx="242.2" cy="113.9" r="1.05" fill="#1b3a78"/>
<circle cx="243.7" cy="114.7" r="1.05" fill="#1b3a78"/>
<circle cx="249.1" cy="116.2" r="1.05" fill="#1b3a78"/>
<circle cx="244.5" cy="116.1" r="1.05" fill="#1b3a78"/>
<circle cx="240.8" cy="116.7" r="1.05" fill="#1b3a78"/>
<circle cx="242.5" cy="117.6" r="1.05" fill="#1b3a78"/>
<circle cx="243.3" cy="118.2" r="1.05" fill="#1b3a78"/>
<circle cx="239.1" cy="118.4" r="1.05" fill="#1b3a78"/>
<circle cx="238.3" cy="119.2" r="1.05" fill="#1b3a78"/>
<circle cx="237.7" cy="119.8" r="1.05" fill="#1b3a78"/>
<circle cx="239.8" cy="117.6" r="1.05" fill="#1b3a78"/>
<circle cx="241.0" cy="117.8" r="1.05" fill="#1b3a78"/>
<circle cx="242.8" cy="116.2" r="1.05" fill="#1b3a78"/>
<circle cx="278.8" cy="90.3" r="1.05" fill="#1b3a78"/>
<circle cx="286.5" cy="85.5" r="1.05" fill="#1b3a78"/>
<circle cx="285.9" cy="87.8" r="1.05" fill="#1b3a78"/>
<circle cx="287.2" cy="83.4" r="1.05" fill="#1b3a78"/>
<circle cx="296.9" cy="87.2" r="1.05" fill="#1b3a78"/>
<circle cx="292.7" cy="90.7" r="1.05" fill="#1b3a78"/>
<circle cx="287.8" cy="93.8" r="1.05" fill="#1b3a78"/>
<circle cx="293.2" cy="96.1" r="1.05" fill="#1b3a78"/>
<circle cx="290.2" cy="98.0" r="1.05" fill="#1b3a78"/>
<circle cx="277.5" cy="97.2" r="1.05" fill="#1b3a78"/>
<circle cx="284.2" cy="100.3" r="1.05" fill="#1b3a78"/>
<circle cx="279.2" cy="102.0" r="1.05" fill="#1b3a78"/>
<circle cx="295.8" cy="103.2" r="1.05" fill="#1b3a78"/>
<circle cx="276.8" cy="106.8" r="1.05" fill="#1b3a78"/>
<circle cx="278.0" cy="109.3" r="1.05" fill="#1b3a78"/>
<line x1="237.30" y1="28.40" x2="237.30" y2="120.20" stroke="#111" stroke-width="1.3"/>
<line x1="234.10" y1="120.20" x2="237.30" y2="120.20" stroke="#111" stroke-width="1.3"/>
<text transform="translate(226.64,122.99) scale(0.9300,1)" font-size="9.3" fill="#111" stroke="#111" stroke-width="0.161">0</text>
<line x1="234.10" y1="90.67" x2="237.30" y2="90.67" stroke="#111" stroke-width="1.3"/>
<text transform="translate(221.83,93.46) scale(0.9300,1)" font-size="9.3" fill="#111" stroke="#111" stroke-width="0.161">50</text>
<line x1="234.10" y1="61.13" x2="237.30" y2="61.13" stroke="#111" stroke-width="1.3"/>
<text transform="translate(217.02,63.92) scale(0.9300,1)" font-size="9.3" fill="#111" stroke="#111" stroke-width="0.161">100</text>
<line x1="234.10" y1="31.60" x2="237.30" y2="31.60" stroke="#111" stroke-width="1.3"/>
<text transform="translate(217.02,34.39) scale(0.9300,1)" font-size="9.3" fill="#111" stroke="#111" stroke-width="0.161">150</text>
<line x1="237.30" y1="120.20" x2="340.40" y2="120.20" stroke="#111" stroke-width="1.3"/>
<line x1="237.40" y1="120.20" x2="237.40" y2="123.40" stroke="#111" stroke-width="1.3"/>
<text transform="translate(234.98,134.60) scale(0.9300,1)" font-size="9.3" fill="#111" stroke="#111" stroke-width="0.161">0</text>
<line x1="270.90" y1="120.20" x2="270.90" y2="123.40" stroke="#111" stroke-width="1.3"/>
<text transform="translate(266.08,134.60) scale(0.9300,1)" font-size="9.3" fill="#111" stroke="#111" stroke-width="0.161">50</text>
<line x1="304.40" y1="120.20" x2="304.40" y2="123.40" stroke="#111" stroke-width="1.3"/>
<text transform="translate(296.99,134.60) scale(0.9300,1)" font-size="9.3" fill="#111" stroke="#111" stroke-width="0.161">100</text>
<line x1="337.90" y1="120.20" x2="337.90" y2="123.40" stroke="#111" stroke-width="1.3"/>
<text transform="translate(330.49,134.60) scale(0.9300,1)" font-size="9.3" fill="#111" stroke="#111" stroke-width="0.161">150</text>
<text transform="translate(264.56,148.30) scale(0.8043,1)" font-size="10" fill="#111" stroke="#111" stroke-width="0.187">BM MKs rank</text>
<text transform="translate(210.30,99.14) rotate(-90) scale(0.8049,1)" font-size="10" fill="#111" stroke="#111" stroke-width="0.186">Platelets rank</text>
<text transform="translate(243.85,36.40) scale(1.1173,1)" font-size="7.3" fill="#111" stroke="#111" stroke-width="0.072">ρ=0.64, P=9.23x10</text>
<text transform="translate(312.76,32.30) scale(1.2072,1)" font-size="5.2" fill="#111" stroke="#111" stroke-width="0.066">-15</text>
<circle cx="410.7" cy="63.8" r="1.05" fill="#1b3a78"/>
<circle cx="430.8" cy="69.4" r="1.05" fill="#1b3a78"/>
<circle cx="441.1" cy="68.2" r="1.05" fill="#1b3a78"/>
<circle cx="444.8" cy="71.0" r="1.05" fill="#1b3a78"/>
<circle cx="444.2" cy="72.1" r="1.05" fill="#1b3a78"/>
<circle cx="446.1" cy="73.8" r="1.05" fill="#1b3a78"/>
<circle cx="441.7" cy="77.5" r="1.05" fill="#1b3a78"/>
<circle cx="446.8" cy="80.9" r="1.05" fill="#1b3a78"/>
<circle cx="413.2" cy="81.9" r="1.05" fill="#1b3a78"/>
<circle cx="432.8" cy="81.3" r="1.05" fill="#1b3a78"/>
<circle cx="434.8" cy="83.3" r="1.05" fill="#1b3a78"/>
<circle cx="439.8" cy="82.5" r="1.05" fill="#1b3a78"/>
<circle cx="425.9" cy="85.9" r="1.05" fill="#1b3a78"/>
<circle cx="437.6" cy="86.5" r="1.05" fill="#1b3a78"/>
<circle cx="436.7" cy="87.7" r="1.05" fill="#1b3a78"/>
<circle cx="438.6" cy="89.5" r="1.05" fill="#1b3a78"/>
<circle cx="439.0" cy="90.0" r="1.05" fill="#1b3a78"/>
<circle cx="424.5" cy="88.8" r="1.05" fill="#1b3a78"/>
<circle cx="423.4" cy="91.7" r="1.05" fill="#1b3a78"/>
<circle cx="428.4" cy="92.7" r="1.05" fill="#1b3a78"/>
<circle cx="443.0" cy="91.0" r="1.05" fill="#1b3a78"/>
<circle cx="433.4" cy="93.3" r="1.05" fill="#1b3a78"/>
<circle cx="445.7" cy="93.8" r="1.05" fill="#1b3a78"/>
<circle cx="426.5" cy="94.4" r="1.05" fill="#1b3a78"/>
<circle cx="435.7" cy="94.6" r="1.05" fill="#1b3a78"/>
<circle cx="453.9" cy="61.9" r="1.05" fill="#1b3a78"/>
<circle cx="452.9" cy="63.3" r="1.05" fill="#1b3a78"/>
<circle cx="452.0" cy="64.4" r="1.05" fill="#1b3a78"/>
<circle cx="450.5" cy="65.2" r="1.05" fill="#1b3a78"/>
<circle cx="460.0" cy="61.4" r="1.05" fill="#1b3a78"/>
<circle cx="464.5" cy="60.8" r="1.05" fill="#1b3a78"/>
<circle cx="474.7" cy="62.5" r="1.05" fill="#1b3a78"/>
<circle cx="468.7" cy="64.8" r="1.05" fill="#1b3a78"/>
<circle cx="468.3" cy="66.5" r="1.05" fill="#1b3a78"/>
<circle cx="470.5" cy="65.8" r="1.05" fill="#1b3a78"/>
<circle cx="471.6" cy="67.1" r="1.05" fill="#1b3a78"/>
<circle cx="462.5" cy="67.5" r="1.05" fill="#1b3a78"/>
<circle cx="466.4" cy="68.8" r="1.05" fill="#1b3a78"/>
<circle cx="451.8" cy="70.0" r="1.05" fill="#1b3a78"/>
<circle cx="474.6" cy="71.2" r="1.05" fill="#1b3a78"/>
<circle cx="475.6" cy="70.4" r="1.05" fill="#1b3a78"/>
<circle cx="458.9" cy="73.3" r="1.05" fill="#1b3a78"/>
<circle cx="455.6" cy="75.2" r="1.05" fill="#1b3a78"/>
<circle cx="454.6" cy="75.8" r="1.05" fill="#1b3a78"/>
<circle cx="467.8" cy="72.9" r="1.05" fill="#1b3a78"/>
<circle cx="475.8" cy="74.6" r="1.05" fill="#1b3a78"/>
<circle cx="465.8" cy="76.2" r="1.05" fill="#1b3a78"/>
<circle cx="472.0" cy="76.7" r="1.05" fill="#1b3a78"/>
<circle cx="472.8" cy="78.1" r="1.05" fill="#1b3a78"/>
<circle cx="459.1" cy="78.5" r="1.05" fill="#1b3a78"/>
<circle cx="458.2" cy="79.6" r="1.05" fill="#1b3a78"/>
<circle cx="466.9" cy="79.0" r="1.05" fill="#1b3a78"/>
<circle cx="469.6" cy="80.2" r="1.05" fill="#1b3a78"/>
<circle cx="470.2" cy="83.7" r="1.05" fill="#1b3a78"/>
<circle cx="451.0" cy="84.8" r="1.05" fill="#1b3a78"/>
<circle cx="460.6" cy="84.2" r="1.05" fill="#1b3a78"/>
<circle cx="465.0" cy="85.5" r="1.05" fill="#1b3a78"/>
<circle cx="457.0" cy="87.1" r="1.05" fill="#1b3a78"/>
<circle cx="456.0" cy="90.6" r="1.05" fill="#1b3a78"/>
<circle cx="461.9" cy="92.3" r="1.05" fill="#1b3a78"/>
<circle cx="426.7" cy="94.6" r="1.05" fill="#1b3a78"/>
<circle cx="436.1" cy="95.0" r="1.05" fill="#1b3a78"/>
<circle cx="445.5" cy="94.0" r="1.05" fill="#1b3a78"/>
<circle cx="442.2" cy="95.8" r="1.05" fill="#1b3a78"/>
<circle cx="447.2" cy="96.9" r="1.05" fill="#1b3a78"/>
<circle cx="447.6" cy="99.2" r="1.05" fill="#1b3a78"/>
<circle cx="430.5" cy="98.5" r="1.05" fill="#1b3a78"/>
<circle cx="435.3" cy="97.9" r="1.05" fill="#1b3a78"/>
<circle cx="434.2" cy="100.2" r="1.05" fill="#1b3a78"/>
<circle cx="429.5" cy="101.5" r="1.05" fill="#1b3a78"/>
<circle cx="432.2" cy="102.1" r="1.05" fill="#1b3a78"/>
<circle cx="420.8" cy="100.8" r="1.05" fill="#1b3a78"/>
<circle cx="419.5" cy="103.1" r="1.05" fill="#1b3a78"/>
<circle cx="424.0" cy="102.5" r="1.05" fill="#1b3a78"/>
<circle cx="427.1" cy="105.4" r="1.05" fill="#1b3a78"/>
<circle cx="440.5" cy="105.9" r="1.05" fill="#1b3a78"/>
<circle cx="422.8" cy="106.9" r="1.05" fill="#1b3a78"/>
<circle cx="422.4" cy="108.1" r="1.05" fill="#1b3a78"/>
<circle cx="417.1" cy="107.8" r="1.05" fill="#1b3a78"/>
<circle cx="415.1" cy="110.0" r="1.05" fill="#1b3a78"/>
<circle cx="420.2" cy="110.5" r="1.05" fill="#1b3a78"/>
<circle cx="431.7" cy="109.5" r="1.05" fill="#1b3a78"/>
<circle cx="443.5" cy="108.8" r="1.05" fill="#1b3a78"/>
<circle cx="425.3" cy="111.8" r="1.05" fill="#1b3a78"/>
<circle cx="428.0" cy="112.3" r="1.05" fill="#1b3a78"/>
<circle cx="416.1" cy="113.1" r="1.05" fill="#1b3a78"/>
<circle cx="417.6" cy="114.1" r="1.05" fill="#1b3a78"/>
<circle cx="418.8" cy="114.6" r="1.05" fill="#1b3a78"/>
<circle cx="418.2" cy="115.4" r="1.05" fill="#1b3a78"/>
<circle cx="412.8" cy="115.8" r="1.05" fill="#1b3a78"/>
<circle cx="421.5" cy="117.5" r="1.05" fill="#1b3a78"/>
<circle cx="429.0" cy="116.9" r="1.05" fill="#1b3a78"/>
<circle cx="414.5" cy="118.1" r="1.05" fill="#1b3a78"/>
<circle cx="413.4" cy="118.8" r="1.05" fill="#1b3a78"/>
<circle cx="411.8" cy="119.6" r="1.05" fill="#1b3a78"/>
<circle cx="410.7" cy="120.0" r="1.05" fill="#1b3a78"/>
<circle cx="449.1" cy="97.5" r="1.05" fill="#1b3a78"/>
<circle cx="448.1" cy="99.1" r="1.05" fill="#1b3a78"/>
<circle cx="463.8" cy="96.3" r="1.05" fill="#1b3a78"/>
<circle cx="461.2" cy="99.6" r="1.05" fill="#1b3a78"/>
<circle cx="450.0" cy="103.6" r="1.05" fill="#1b3a78"/>
<circle cx="463.3" cy="104.8" r="1.05" fill="#1b3a78"/>
<circle cx="457.5" cy="106.8" r="1.05" fill="#1b3a78"/>
<circle cx="473.5" cy="104.4" r="1.05" fill="#1b3a78"/>
<circle cx="448.7" cy="111.2" r="1.05" fill="#1b3a78"/>
<circle cx="454.5" cy="116.4" r="1.05" fill="#1b3a78"/>
<line x1="409.90" y1="31.80" x2="409.90" y2="120.40" stroke="#111" stroke-width="1.3"/>
<line x1="406.70" y1="120.30" x2="409.90" y2="120.30" stroke="#111" stroke-width="1.3"/>
<text transform="translate(398.24,123.09) scale(0.9300,1)" font-size="9.3" fill="#111" stroke="#111" stroke-width="0.161">0</text>
<line x1="406.70" y1="91.70" x2="409.90" y2="91.70" stroke="#111" stroke-width="1.3"/>
<text transform="translate(393.43,94.49) scale(0.9300,1)" font-size="9.3" fill="#111" stroke="#111" stroke-width="0.161">50</text>
<line x1="406.70" y1="63.10" x2="409.90" y2="63.10" stroke="#111" stroke-width="1.3"/>
<text transform="translate(388.62,65.89) scale(0.9300,1)" font-size="9.3" fill="#111" stroke="#111" stroke-width="0.161">100</text>
<line x1="406.70" y1="34.50" x2="409.90" y2="34.50" stroke="#111" stroke-width="1.3"/>
<text transform="translate(388.62,37.29) scale(0.9300,1)" font-size="9.3" fill="#111" stroke="#111" stroke-width="0.161">150</text>
<line x1="409.90" y1="120.40" x2="508.00" y2="120.40" stroke="#111" stroke-width="1.3"/>
<line x1="409.90" y1="120.40" x2="409.90" y2="123.60" stroke="#111" stroke-width="1.3"/>
<text transform="translate(407.48,134.60) scale(0.9300,1)" font-size="9.3" fill="#111" stroke="#111" stroke-width="0.161">0</text>
<line x1="441.63" y1="120.40" x2="441.63" y2="123.60" stroke="#111" stroke-width="1.3"/>
<text transform="translate(436.81,134.60) scale(0.9300,1)" font-size="9.3" fill="#111" stroke="#111" stroke-width="0.161">50</text>
<line x1="473.37" y1="120.40" x2="473.37" y2="123.60" stroke="#111" stroke-width="1.3"/>
<text transform="translate(465.95,134.60) scale(0.9300,1)" font-size="9.3" fill="#111" stroke="#111" stroke-width="0.161">100</text>
<line x1="505.10" y1="120.40" x2="505.10" y2="123.60" stroke="#111" stroke-width="1.3"/>
<text transform="translate(497.69,134.60) scale(0.9300,1)" font-size="9.3" fill="#111" stroke="#111" stroke-width="0.161">150</text>
<text transform="translate(437.15,148.60) scale(0.8093,1)" font-size="10" fill="#111" stroke="#111" stroke-width="0.185">BM MKs rank</text>
<text transform="translate(382.60,101.95) rotate(-90) scale(0.8156,1)" font-size="10" fill="#111" stroke="#111" stroke-width="0.184">D13 MKs rank</text>
<text transform="translate(416.36,36.40) scale(1.1091,1)" font-size="7.3" fill="#111" stroke="#111" stroke-width="0.072">ρ=0.63, P=4.54x10</text>
<text transform="translate(484.77,32.30) scale(1.1651,1)" font-size="5.2" fill="#111" stroke="#111" stroke-width="0.069">-13</text>
<rect x="224.00" y="178.00" width="8.03" height="5.21" fill="rgb(80,0,0)"/>
<rect x="231.98" y="178.00" width="8.03" height="5.21" fill="rgb(192,0,0)"/>
<rect x="239.97" y="178.00" width="8.03" height="5.21" fill="rgb(80,0,0)"/>
<rect x="247.95" y="178.00" width="8.03" height="5.21" fill="rgb(0,32,0)"/>
<rect x="255.93" y="178.00" width="8.03" height="5.21" fill="rgb(0,37,0)"/>
<rect x="263.92" y="178.00" width="8.03" height="5.21" fill="rgb(0,255,0)"/>
<rect x="224.00" y="183.16" width="8.03" height="5.21" fill="rgb(192,0,0)"/>
<rect x="231.98" y="183.16" width="8.03" height="5.21" fill="rgb(176,0,0)"/>
<rect x="239.97" y="183.16" width="8.03" height="5.21" fill="rgb(80,0,0)"/>
<rect x="247.95" y="183.16" width="8.03" height="5.21" fill="rgb(0,128,0)"/>
<rect x="255.93" y="183.16" width="8.03" height="5.21" fill="rgb(0,144,0)"/>
<rect x="263.92" y="183.16" width="8.03" height="5.21" fill="rgb(0,112,0)"/>
<rect x="224.00" y="188.31" width="8.03" height="5.21" fill="rgb(200,0,0)"/>
<rect x="231.98" y="188.31" width="8.03" height="5.21" fill="rgb(184,0,0)"/>
<rect x="239.97" y="188.31" width="8.03" height="5.21" fill="rgb(48,0,0)"/>
<rect x="247.95" y="188.31" width="8.03" height="5.21" fill="rgb(0,128,0)"/>
<rect x="255.93" y="188.31" width="8.03" height="5.21" fill="rgb(0,160,0)"/>
<rect x="263.92" y="188.31" width="8.03" height="5.21" fill="rgb(0,80,0)"/>
<rect x="224.00" y="193.47" width="8.03" height="5.21" fill="rgb(192,0,0)"/>
<rect x="231.98" y="193.47" width="8.03" height="5.21" fill="rgb(128,0,0)"/>
<rect x="239.97" y="193.47" width="8.03" height="5.21" fill="rgb(128,0,0)"/>
<rect x="247.95" y="193.47" width="8.03" height="5.21" fill="rgb(0,208,0)"/>
<rect x="255.93" y="193.47" width="8.03" height="5.21" fill="rgb(0,96,0)"/>
<rect x="263.92" y="193.47" width="8.03" height="5.21" fill="rgb(0,64,0)"/>
<rect x="224.00" y="198.63" width="8.03" height="5.21" fill="rgb(208,0,0)"/>
<rect x="231.98" y="198.63" width="8.03" height="5.21" fill="rgb(144,0,0)"/>
<rect x="239.97" y="198.63" width="8.03" height="5.21" fill="rgb(8,0,0)"/>
<rect x="247.95" y="198.63" width="8.03" height="5.21" fill="rgb(0,240,0)"/>
<rect x="255.93" y="198.63" width="8.03" height="5.21" fill="rgb(0,32,0)"/>
<rect x="263.92" y="198.63" width="8.03" height="5.21" fill="rgb(0,48,0)"/>
<rect x="224.00" y="203.78" width="8.03" height="5.21" fill="rgb(32,0,0)"/>
<rect x="231.98" y="203.78" width="8.03" height="5.21" fill="rgb(0,128,0)"/>
<rect x="239.97" y="203.78" width="8.03" height="5.21" fill="rgb(0,224,0)"/>
<rect x="247.95" y="203.78" width="8.03" height="5.21" fill="rgb(192,0,0)"/>
<rect x="255.93" y="203.78" width="8.03" height="5.21" fill="rgb(96,0,0)"/>
<rect x="263.92" y="203.78" width="8.03" height="5.21" fill="rgb(80,0,0)"/>
<rect x="224.00" y="208.94" width="8.03" height="5.21" fill="rgb(64,0,0)"/>
<rect x="231.98" y="208.94" width="8.03" height="5.21" fill="rgb(0,208,0)"/>
<rect x="239.97" y="208.94" width="8.03" height="5.21" fill="rgb(0,144,0)"/>
<rect x="247.95" y="208.94" width="8.03" height="5.21" fill="rgb(16,0,0)"/>
<rect x="255.93" y="208.94" width="8.03" height="5.21" fill="rgb(192,0,0)"/>
<rect x="263.92" y="208.94" width="8.03" height="5.21" fill="rgb(128,0,0)"/>
<rect x="224.00" y="214.10" width="8.03" height="5.21" fill="rgb(0,16,0)"/>
<rect x="231.98" y="214.10" width="8.03" height="5.21" fill="rgb(0,208,0)"/>
<rect x="239.97" y="214.10" width="8.03" height="5.21" fill="rgb(0,128,0)"/>
<rect x="247.95" y="214.10" width="8.03" height="5.21" fill="rgb(160,0,0)"/>
<rect x="255.93" y="214.10" width="8.03" height="5.21" fill="rgb(128,0,0)"/>
<rect x="263.92" y="214.10" width="8.03" height="5.21" fill="rgb(128,0,0)"/>
<rect x="224.00" y="219.25" width="8.03" height="5.21" fill="rgb(0,32,0)"/>
<rect x="231.98" y="219.25" width="8.03" height="5.21" fill="rgb(0,240,0)"/>
<rect x="239.97" y="219.25" width="8.03" height="5.21" fill="rgb(0,48,0)"/>
<rect x="247.95" y="219.25" width="8.03" height="5.21" fill="rgb(144,0,0)"/>
<rect x="255.93" y="219.25" width="8.03" height="5.21" fill="rgb(128,0,0)"/>
<rect x="263.92" y="219.25" width="8.03" height="5.21" fill="rgb(112,0,0)"/>
<rect x="224.00" y="224.41" width="8.03" height="5.21" fill="rgb(0,240,0)"/>
<rect x="231.98" y="224.41" width="8.03" height="5.21" fill="rgb(5,0,0)"/>
<rect x="239.97" y="224.41" width="8.03" height="5.21" fill="rgb(0,96,0)"/>
<rect x="247.95" y="224.41" width="8.03" height="5.21" fill="rgb(224,0,0)"/>
<rect x="255.93" y="224.41" width="8.03" height="5.21" fill="rgb(112,0,0)"/>
<rect x="263.92" y="224.41" width="8.03" height="5.21" fill="rgb(32,0,0)"/>
<rect x="224.00" y="229.57" width="8.03" height="5.21" fill="rgb(0,96,0)"/>
<rect x="231.98" y="229.57" width="8.03" height="5.21" fill="rgb(0,48,0)"/>
<rect x="239.97" y="229.57" width="8.03" height="5.21" fill="rgb(0,208,0)"/>
<rect x="247.95" y="229.57" width="8.03" height="5.21" fill="rgb(96,0,0)"/>
<rect x="255.93" y="229.57" width="8.03" height="5.21" fill="rgb(224,0,0)"/>
<rect x="263.92" y="229.57" width="8.03" height="5.21" fill="rgb(64,0,0)"/>
<rect x="224.00" y="234.72" width="8.03" height="5.21" fill="rgb(0,144,0)"/>
<rect x="231.98" y="234.72" width="8.03" height="5.21" fill="rgb(5,0,0)"/>
<rect x="239.97" y="234.72" width="8.03" height="5.21" fill="rgb(0,192,0)"/>
<rect x="247.95" y="234.72" width="8.03" height="5.21" fill="rgb(144,0,0)"/>
<rect x="255.93" y="234.72" width="8.03" height="5.21" fill="rgb(200,0,0)"/>
<rect x="263.92" y="234.72" width="8.03" height="5.21" fill="rgb(48,0,0)"/>
<rect x="224.00" y="239.88" width="8.03" height="5.21" fill="rgb(0,176,0)"/>
<rect x="231.98" y="239.88" width="8.03" height="5.21" fill="rgb(5,0,0)"/>
<rect x="239.97" y="239.88" width="8.03" height="5.21" fill="rgb(0,176,0)"/>
<rect x="247.95" y="239.88" width="8.03" height="5.21" fill="rgb(144,0,0)"/>
<rect x="255.93" y="239.88" width="8.03" height="5.21" fill="rgb(192,0,0)"/>
<rect x="263.92" y="239.88" width="8.03" height="5.21" fill="rgb(48,0,0)"/>
<rect x="224.00" y="245.03" width="8.03" height="5.21" fill="rgb(0,176,0)"/>
<rect x="231.98" y="245.03" width="8.03" height="5.21" fill="rgb(0,144,0)"/>
<rect x="239.97" y="245.03" width="8.03" height="5.21" fill="rgb(0,32,0)"/>
<rect x="247.95" y="245.03" width="8.03" height="5.21" fill="rgb(80,0,0)"/>
<rect x="255.93" y="245.03" width="8.03" height="5.21" fill="rgb(240,0,0)"/>
<rect x="263.92" y="245.03" width="8.03" height="5.21" fill="rgb(48,0,0)"/>
<rect x="224.00" y="250.19" width="8.03" height="5.21" fill="rgb(0,144,0)"/>
<rect x="231.98" y="250.19" width="8.03" height="5.21" fill="rgb(0,144,0)"/>
<rect x="239.97" y="250.19" width="8.03" height="5.21" fill="rgb(0,128,0)"/>
<rect x="247.95" y="250.19" width="8.03" height="5.21" fill="rgb(144,0,0)"/>
<rect x="255.93" y="250.19" width="8.03" height="5.21" fill="rgb(144,0,0)"/>
<rect x="263.92" y="250.19" width="8.03" height="5.21" fill="rgb(160,0,0)"/>
<rect x="224.00" y="255.35" width="8.03" height="5.21" fill="rgb(0,112,0)"/>
<rect x="231.98" y="255.35" width="8.03" height="5.21" fill="rgb(0,176,0)"/>
<rect x="239.97" y="255.35" width="8.03" height="5.21" fill="rgb(0,96,0)"/>
<rect x="247.95" y="255.35" width="8.03" height="5.21" fill="rgb(48,0,0)"/>
<rect x="255.93" y="255.35" width="8.03" height="5.21" fill="rgb(200,0,0)"/>
<rect x="263.92" y="255.35" width="8.03" height="5.21" fill="rgb(160,0,0)"/>
<rect x="224.00" y="260.50" width="8.03" height="5.21" fill="rgb(0,96,0)"/>
<rect x="231.98" y="260.50" width="8.03" height="5.21" fill="rgb(0,144,0)"/>
<rect x="239.97" y="260.50" width="8.03" height="5.21" fill="rgb(0,144,0)"/>
<rect x="247.95" y="260.50" width="8.03" height="5.21" fill="rgb(48,0,0)"/>
<rect x="255.93" y="260.50" width="8.03" height="5.21" fill="rgb(208,0,0)"/>
<rect x="263.92" y="260.50" width="8.03" height="5.21" fill="rgb(144,0,0)"/>
<rect x="224.00" y="265.66" width="8.03" height="5.21" fill="rgb(0,80,0)"/>
<rect x="231.98" y="265.66" width="8.03" height="5.21" fill="rgb(0,176,0)"/>
<rect x="239.97" y="265.66" width="8.03" height="5.21" fill="rgb(0,112,0)"/>
<rect x="247.95" y="265.66" width="8.03" height="5.21" fill="rgb(48,0,0)"/>
<rect x="255.93" y="265.66" width="8.03" height="5.21" fill="rgb(224,0,0)"/>
<rect x="263.92" y="265.66" width="8.03" height="5.21" fill="rgb(128,0,0)"/>
<rect x="224.00" y="270.82" width="8.03" height="5.21" fill="rgb(0,32,0)"/>
<rect x="231.98" y="270.82" width="8.03" height="5.21" fill="rgb(0,48,0)"/>
<rect x="239.97" y="270.82" width="8.03" height="5.21" fill="rgb(0,240,0)"/>
<rect x="247.95" y="270.82" width="8.03" height="5.21" fill="rgb(5,0,0)"/>
<rect x="255.93" y="270.82" width="8.03" height="5.21" fill="rgb(208,0,0)"/>
<rect x="263.92" y="270.82" width="8.03" height="5.21" fill="rgb(128,0,0)"/>
<rect x="224.00" y="275.97" width="8.03" height="5.21" fill="rgb(0,32,0)"/>
<rect x="231.98" y="275.97" width="8.03" height="5.21" fill="rgb(0,48,0)"/>
<rect x="239.97" y="275.97" width="8.03" height="5.21" fill="rgb(0,240,0)"/>
<rect x="247.95" y="275.97" width="8.03" height="5.21" fill="rgb(0,16,0)"/>
<rect x="255.93" y="275.97" width="8.03" height="5.21" fill="rgb(176,0,0)"/>
<rect x="263.92" y="275.97" width="8.03" height="5.21" fill="rgb(160,0,0)"/>
<rect x="224.00" y="281.13" width="8.03" height="5.21" fill="rgb(0,208,0)"/>
<rect x="231.98" y="281.13" width="8.03" height="5.21" fill="rgb(0,32,0)"/>
<rect x="239.97" y="281.13" width="8.03" height="5.21" fill="rgb(0,128,0)"/>
<rect x="247.95" y="281.13" width="8.03" height="5.21" fill="rgb(48,0,0)"/>
<rect x="255.93" y="281.13" width="8.03" height="5.21" fill="rgb(192,0,0)"/>
<rect x="263.92" y="281.13" width="8.03" height="5.21" fill="rgb(160,0,0)"/>
<rect x="224.00" y="286.29" width="8.03" height="5.21" fill="rgb(0,112,0)"/>
<rect x="231.98" y="286.29" width="8.03" height="5.21" fill="rgb(0,48,0)"/>
<rect x="239.97" y="286.29" width="8.03" height="5.21" fill="rgb(0,112,0)"/>
<rect x="247.95" y="286.29" width="8.03" height="5.21" fill="rgb(0,32,0)"/>
<rect x="255.93" y="286.29" width="8.03" height="5.21" fill="rgb(208,0,0)"/>
<rect x="263.92" y="286.29" width="8.03" height="5.21" fill="rgb(176,0,0)"/>
<rect x="224.00" y="291.44" width="8.03" height="5.21" fill="rgb(0,144,0)"/>
<rect x="231.98" y="291.44" width="8.03" height="5.21" fill="rgb(0,48,0)"/>
<rect x="239.97" y="291.44" width="8.03" height="5.21" fill="rgb(0,80,0)"/>
<rect x="247.95" y="291.44" width="8.03" height="5.21" fill="rgb(0,32,0)"/>
<rect x="255.93" y="291.44" width="8.03" height="5.21" fill="rgb(248,0,0)"/>
<rect x="263.92" y="291.44" width="8.03" height="5.21" fill="rgb(112,0,0)"/>
<line x1="224.0" y1="183.16" x2="271.9" y2="183.16" stroke="#fff" stroke-opacity="0.10" stroke-width="0.5"/>
<line x1="224.0" y1="188.31" x2="271.9" y2="188.31" stroke="#fff" stroke-opacity="0.10" stroke-width="0.5"/>
<line x1="224.0" y1="193.47" x2="271.9" y2="193.47" stroke="#fff" stroke-opacity="0.10" stroke-width="0.5"/>
<line x1="224.0" y1="198.63" x2="271.9" y2="198.63" stroke="#fff" stroke-opacity="0.10" stroke-width="0.5"/>
<line x1="224.0" y1="203.78" x2="271.9" y2="203.78" stroke="#fff" stroke-opacity="0.10" stroke-width="0.5"/>
<line x1="224.0" y1="208.94" x2="271.9" y2="208.94" stroke="#fff" stroke-opacity="0.10" stroke-width="0.5"/>
<line x1="224.0" y1="214.10" x2="271.9" y2="214.10" stroke="#fff" stroke-opacity="0.10" stroke-width="0.5"/>
<line x1="224.0" y1="219.25" x2="271.9" y2="219.25" stroke="#fff" stroke-opacity="0.10" stroke-width="0.5"/>
<line x1="224.0" y1="224.41" x2="271.9" y2="224.41" stroke="#fff" stroke-opacity="0.10" stroke-width="0.5"/>
<line x1="224.0" y1="229.57" x2="271.9" y2="229.57" stroke="#fff" stroke-opacity="0.10" stroke-width="0.5"/>
<line x1="224.0" y1="234.72" x2="271.9" y2="234.72" stroke="#fff" stroke-opacity="0.10" stroke-width="0.5"/>
<line x1="224.0" y1="239.88" x2="271.9" y2="239.88" stroke="#fff" stroke-opacity="0.10" stroke-width="0.5"/>
<line x1="224.0" y1="245.03" x2="271.9" y2="245.03" stroke="#fff" stroke-opacity="0.10" stroke-width="0.5"/>
<line x1="224.0" y1="250.19" x2="271.9" y2="250.19" stroke="#fff" stroke-opacity="0.10" stroke-width="0.5"/>
<line x1="224.0" y1="255.35" x2="271.9" y2="255.35" stroke="#fff" stroke-opacity="0.10" stroke-width="0.5"/>
<line x1="224.0" y1="260.50" x2="271.9" y2="260.50" stroke="#fff" stroke-opacity="0.10" stroke-width="0.5"/>
<line x1="224.0" y1="265.66" x2="271.9" y2="265.66" stroke="#fff" stroke-opacity="0.10" stroke-width="0.5"/>
<line x1="224.0" y1="270.82" x2="271.9" y2="270.82" stroke="#fff" stroke-opacity="0.10" stroke-width="0.5"/>
<line x1="224.0" y1="275.97" x2="271.9" y2="275.97" stroke="#fff" stroke-opacity="0.10" stroke-width="0.5"/>
<line x1="224.0" y1="281.13" x2="271.9" y2="281.13" stroke="#fff" stroke-opacity="0.10" stroke-width="0.5"/>
<line x1="224.0" y1="286.29" x2="271.9" y2="286.29" stroke="#fff" stroke-opacity="0.10" stroke-width="0.5"/>
<line x1="224.0" y1="291.44" x2="271.9" y2="291.44" stroke="#fff" stroke-opacity="0.10" stroke-width="0.5"/>
<line x1="231.98" y1="178.0" x2="231.98" y2="296.6" stroke="#fff" stroke-opacity="0.08" stroke-width="0.5"/>
<line x1="239.97" y1="178.0" x2="239.97" y2="296.6" stroke="#fff" stroke-opacity="0.08" stroke-width="0.5"/>
<line x1="247.95" y1="178.0" x2="247.95" y2="296.6" stroke="#fff" stroke-opacity="0.08" stroke-width="0.5"/>
<line x1="255.93" y1="178.0" x2="255.93" y2="296.6" stroke="#fff" stroke-opacity="0.08" stroke-width="0.5"/>
<line x1="263.92" y1="178.0" x2="263.92" y2="296.6" stroke="#fff" stroke-opacity="0.08" stroke-width="0.5"/>
<text transform="translate(278.10,182.33) scale(0.9750,1)" font-size="5.3" font-style="italic" fill="#333" stroke="#333" stroke-width="0.082">hsa-miR-18b-5p</text>
<text transform="translate(278.10,187.48) scale(0.9750,1)" font-size="5.3" font-style="italic" fill="#333" stroke="#333" stroke-width="0.082">hsa-miR-20a-5p</text>
<text transform="translate(278.10,192.64) scale(0.9750,1)" font-size="5.3" font-style="italic" fill="#333" stroke="#333" stroke-width="0.082">hsa-miR-106a-5p</text>
<text transform="translate(278.10,197.80) scale(0.9750,1)" font-size="5.3" font-style="italic" fill="#333" stroke="#333" stroke-width="0.082">hsa-miR-155-5p</text>
<text transform="translate(278.10,202.95) scale(0.9750,1)" font-size="5.3" font-style="italic" fill="#333" stroke="#333" stroke-width="0.082">hsa-miR-106b-5p</text>
<text transform="translate(278.10,208.11) scale(0.9750,1)" font-size="5.3" font-style="italic" fill="#333" stroke="#333" stroke-width="0.082">hsa-miR-24-3p</text>
<text transform="translate(278.10,213.27) scale(0.9750,1)" font-size="5.3" font-style="italic" fill="#333" stroke="#333" stroke-width="0.082">hsa-miR-99b-5p</text>
<text transform="translate(278.10,218.42) scale(0.9750,1)" font-size="5.3" font-style="italic" fill="#333" stroke="#333" stroke-width="0.082">hsa-miR-7c-5p</text>
<text transform="translate(278.10,223.58) scale(0.9750,1)" font-size="5.3" font-style="italic" fill="#333" stroke="#333" stroke-width="0.082">hsa-miR-7e-5p</text>
<text transform="translate(278.10,228.74) scale(0.9750,1)" font-size="5.3" font-style="italic" fill="#333" stroke="#333" stroke-width="0.082">hsa-miR-23a-5p</text>
<text transform="translate(278.10,233.89) scale(0.9750,1)" font-size="5.3" font-style="italic" fill="#333" stroke="#333" stroke-width="0.082">hsa-miR-26a-5p</text>
<text transform="translate(278.10,239.05) scale(0.9750,1)" font-size="5.3" font-style="italic" fill="#333" stroke="#333" stroke-width="0.082">hsa-miR-191-5p</text>
<text transform="translate(278.10,244.21) scale(0.9750,1)" font-size="5.3" font-style="italic" fill="#333" stroke="#333" stroke-width="0.082">hsa-miR-125a-5p</text>
<text transform="translate(278.10,249.36) scale(0.9750,1)" font-size="5.3" font-style="italic" fill="#333" stroke="#333" stroke-width="0.082">hsa-miR-15b-5p</text>
<text transform="translate(278.10,254.52) scale(0.9750,1)" font-size="5.3" font-style="italic" fill="#333" stroke="#333" stroke-width="0.082">hsa-miR-223-3p</text>
<text transform="translate(278.10,259.68) scale(0.9750,1)" font-size="5.3" font-style="italic" fill="#333" stroke="#333" stroke-width="0.082">hsa-miR-127-3p</text>
<text transform="translate(278.10,264.83) scale(0.9750,1)" font-size="5.3" font-style="italic" fill="#333" stroke="#333" stroke-width="0.082">hsa-miR-103a-3p</text>
<text transform="translate(278.10,269.99) scale(0.9750,1)" font-size="5.3" font-style="italic" fill="#333" stroke="#333" stroke-width="0.082">hsa-miR-107-5p</text>
<text transform="translate(278.10,275.15) scale(0.9750,1)" font-size="5.3" font-style="italic" fill="#333" stroke="#333" stroke-width="0.082">hsa-miR-320a-5p</text>
<text transform="translate(278.10,280.30) scale(0.9750,1)" font-size="5.3" font-style="italic" fill="#333" stroke="#333" stroke-width="0.082">hsa-miR-744-5p</text>
<text transform="translate(278.10,285.46) scale(0.9750,1)" font-size="5.3" font-style="italic" fill="#333" stroke="#333" stroke-width="0.082">hsa-miR-382-5p</text>
<text transform="translate(278.10,290.62) scale(0.9750,1)" font-size="5.3" font-style="italic" fill="#333" stroke="#333" stroke-width="0.082">hsa-miR-652-3p</text>
<text transform="translate(278.10,295.77) scale(0.9750,1)" font-size="5.3" font-style="italic" fill="#333" stroke="#333" stroke-width="0.082">hsa-miR-486-3p</text>
<defs><linearGradient id="cbar" x1="0" y1="0" x2="0" y2="1">
<stop offset="0" stop-color="#d2232a"/><stop offset="0.25" stop-color="#8a1a1e"/>
<stop offset="0.5" stop-color="#050505"/><stop offset="0.75" stop-color="#2e6a24"/><stop offset="1" stop-color="#6fbe4a"/>
</linearGradient></defs>
<rect x="333.8" y="179.7" width="7.2" height="41.1" fill="url(#cbar)"/>
<text transform="translate(322.96,183.50) scale(1.0000,1)" font-size="5.8" fill="#333" stroke="#333" stroke-width="0.080">1.5</text>
<text transform="translate(322.96,190.20) scale(1.0000,1)" font-size="5.8" fill="#333" stroke="#333" stroke-width="0.080">1.0</text>
<text transform="translate(322.96,196.60) scale(1.0000,1)" font-size="5.8" fill="#333" stroke="#333" stroke-width="0.080">0.5</text>
<text transform="translate(327.80,202.80) scale(1.0000,1)" font-size="5.8" fill="#333" stroke="#333" stroke-width="0.080">0</text>
<text transform="translate(321.03,209.20) scale(1.0000,1)" font-size="5.8" fill="#333" stroke="#333" stroke-width="0.080">-0.5</text>
<text transform="translate(321.03,215.80) scale(1.0000,1)" font-size="5.8" fill="#333" stroke="#333" stroke-width="0.080">-1.0</text>
<text transform="translate(321.03,222.00) scale(1.0000,1)" font-size="5.8" fill="#333" stroke="#333" stroke-width="0.080">-1.5</text>
<line x1="227.40" y1="299.40" x2="248.90" y2="299.40" stroke="#333" stroke-width="1.1"/>
<line x1="253.40" y1="299.40" x2="274.90" y2="299.40" stroke="#333" stroke-width="1.1"/>
<text transform="translate(232.15,311.00) scale(1.0667,1)" font-size="9" fill="#111" stroke="#111" stroke-width="0.141">D6</text>
<text transform="translate(255.38,311.00) scale(1.0319,1)" font-size="9" fill="#111" stroke="#111" stroke-width="0.145">D13</text>
<line x1="410.00" y1="180.50" x2="410.00" y2="275.30" stroke="#111" stroke-width="1.3"/>
<line x1="406.80" y1="275.30" x2="410.00" y2="275.30" stroke="#111" stroke-width="1.3"/>
<text transform="translate(399.44,278.09) scale(0.9300,1)" font-size="9.3" fill="#111" stroke="#111" stroke-width="0.161">0</text>
<line x1="406.80" y1="256.64" x2="410.00" y2="256.64" stroke="#111" stroke-width="1.3"/>
<text transform="translate(389.82,259.43) scale(0.9300,1)" font-size="9.3" fill="#111" stroke="#111" stroke-width="0.161">100</text>
<line x1="406.80" y1="237.98" x2="410.00" y2="237.98" stroke="#111" stroke-width="1.3"/>
<text transform="translate(389.82,240.77) scale(0.9300,1)" font-size="9.3" fill="#111" stroke="#111" stroke-width="0.161">200</text>
<line x1="406.80" y1="219.32" x2="410.00" y2="219.32" stroke="#111" stroke-width="1.3"/>
<text transform="translate(389.82,222.11) scale(0.9300,1)" font-size="9.3" fill="#111" stroke="#111" stroke-width="0.161">300</text>
<line x1="406.80" y1="200.66" x2="410.00" y2="200.66" stroke="#111" stroke-width="1.3"/>
<text transform="translate(389.82,203.45) scale(0.9300,1)" font-size="9.3" fill="#111" stroke="#111" stroke-width="0.161">400</text>
<line x1="406.80" y1="182.00" x2="410.00" y2="182.00" stroke="#111" stroke-width="1.3"/>
<text transform="translate(389.82,184.79) scale(0.9300,1)" font-size="9.3" fill="#111" stroke="#111" stroke-width="0.161">500</text>
<line x1="410.00" y1="275.30" x2="485.60" y2="275.30" stroke="#111" stroke-width="1.3"/>
<text transform="translate(435.07,285.70) scale(1.0609,1)" font-size="8.6" fill="#111" stroke="#111" stroke-width="0.141">n=154</text>
<text transform="translate(383.30,264.05) rotate(-90) scale(0.8152,1)" font-size="10.2" fill="#111" stroke="#111" stroke-width="0.184">Platelet # x 1000/μL</text>
<circle cx="441.88" cy="212.63" r="1.1" fill="none" stroke="#4f6498" stroke-width="0.72"/>
<circle cx="444.25" cy="212.72" r="1.1" fill="none" stroke="#4f6498" stroke-width="0.72"/>
<circle cx="446.94" cy="212.30" r="1.1" fill="none" stroke="#4f6498" stroke-width="0.72"/>
<circle cx="449.14" cy="212.77" r="1.1" fill="none" stroke="#4f6498" stroke-width="0.72"/>
<circle cx="451.52" cy="212.82" r="1.1" fill="none" stroke="#4f6498" stroke-width="0.72"/>
<circle cx="441.89" cy="215.30" r="1.1" fill="none" stroke="#4f6498" stroke-width="0.72"/>
<circle cx="444.01" cy="215.43" r="1.1" fill="none" stroke="#4f6498" stroke-width="0.72"/>
<circle cx="449.66" cy="215.77" r="1.1" fill="none" stroke="#4f6498" stroke-width="0.72"/>
<circle cx="452.57" cy="215.72" r="1.1" fill="none" stroke="#4f6498" stroke-width="0.72"/>
<circle cx="441.40" cy="218.14" r="1.1" fill="none" stroke="#4f6498" stroke-width="0.72"/>
<circle cx="444.10" cy="218.54" r="1.1" fill="none" stroke="#4f6498" stroke-width="0.72"/>
<circle cx="447.02" cy="218.66" r="1.1" fill="none" stroke="#4f6498" stroke-width="0.72"/>
<circle cx="449.46" cy="218.19" r="1.1" fill="none" stroke="#4f6498" stroke-width="0.72"/>
<circle cx="452.43" cy="218.41" r="1.1" fill="none" stroke="#4f6498" stroke-width="0.72"/>
<circle cx="441.68" cy="221.24" r="1.1" fill="none" stroke="#4f6498" stroke-width="0.72"/>
<circle cx="444.24" cy="221.37" r="1.1" fill="none" stroke="#4f6498" stroke-width="0.72"/>
<circle cx="446.81" cy="221.23" r="1.1" fill="none" stroke="#4f6498" stroke-width="0.72"/>
<circle cx="449.81" cy="221.15" r="1.1" fill="none" stroke="#4f6498" stroke-width="0.72"/>
<circle cx="452.43" cy="221.37" r="1.1" fill="none" stroke="#4f6498" stroke-width="0.72"/>
<circle cx="441.84" cy="224.12" r="1.1" fill="none" stroke="#4f6498" stroke-width="0.72"/>
<circle cx="444.11" cy="224.20" r="1.1" fill="none" stroke="#4f6498" stroke-width="0.72"/>
<circle cx="447.25" cy="224.16" r="1.1" fill="none" stroke="#4f6498" stroke-width="0.72"/>
<circle cx="449.65" cy="224.44" r="1.1" fill="none" stroke="#4f6498" stroke-width="0.72"/>
<circle cx="452.34" cy="224.10" r="1.1" fill="none" stroke="#4f6498" stroke-width="0.72"/>
<circle cx="431.54" cy="227.71" r="1.1" fill="none" stroke="#4f6498" stroke-width="0.72"/>
<circle cx="434.38" cy="227.25" r="1.1" fill="none" stroke="#4f6498" stroke-width="0.72"/>
<circle cx="436.98" cy="227.64" r="1.1" fill="none" stroke="#4f6498" stroke-width="0.72"/>
<circle cx="439.96" cy="227.56" r="1.1" fill="none" stroke="#4f6498" stroke-width="0.72"/>
<circle cx="445.37" cy="227.57" r="1.1" fill="none" stroke="#4f6498" stroke-width="0.72"/>
<circle cx="448.57" cy="227.23" r="1.1" fill="none" stroke="#4f6498" stroke-width="0.72"/>
<circle cx="454.05" cy="227.54" r="1.1" fill="none" stroke="#4f6498" stroke-width="0.72"/>
<circle cx="456.86" cy="227.69" r="1.1" fill="none" stroke="#4f6498" stroke-width="0.72"/>
<circle cx="459.94" cy="227.60" r="1.1" fill="none" stroke="#4f6498" stroke-width="0.72"/>
<circle cx="462.29" cy="227.42" r="1.1" fill="none" stroke="#4f6498" stroke-width="0.72"/>
<circle cx="432.42" cy="230.21" r="1.1" fill="none" stroke="#4f6498" stroke-width="0.72"/>
<circle cx="434.87" cy="230.24" r="1.1" fill="none" stroke="#4f6498" stroke-width="0.72"/>
<circle cx="437.54" cy="230.16" r="1.1" fill="none" stroke="#4f6498" stroke-width="0.72"/>
<circle cx="440.22" cy="230.54" r="1.1" fill="none" stroke="#4f6498" stroke-width="0.72"/>
<circle cx="443.04" cy="230.05" r="1.1" fill="none" stroke="#4f6498" stroke-width="0.72"/>
<circle cx="445.76" cy="230.50" r="1.1" fill="none" stroke="#4f6498" stroke-width="0.72"/>
<circle cx="448.08" cy="230.37" r="1.1" fill="none" stroke="#4f6498" stroke-width="0.72"/>
<circle cx="453.90" cy="230.25" r="1.1" fill="none" stroke="#4f6498" stroke-width="0.72"/>
<circle cx="456.22" cy="230.57" r="1.1" fill="none" stroke="#4f6498" stroke-width="0.72"/>
<circle cx="459.27" cy="230.45" r="1.1" fill="none" stroke="#4f6498" stroke-width="0.72"/>
<circle cx="462.09" cy="230.58" r="1.1" fill="none" stroke="#4f6498" stroke-width="0.72"/>
<circle cx="428.52" cy="232.71" r="1.1" fill="none" stroke="#4f6498" stroke-width="0.72"/>
<circle cx="431.27" cy="233.09" r="1.1" fill="none" stroke="#4f6498" stroke-width="0.72"/>
<circle cx="434.39" cy="232.96" r="1.1" fill="none" stroke="#4f6498" stroke-width="0.72"/>
<circle cx="437.31" cy="233.14" r="1.1" fill="none" stroke="#4f6498" stroke-width="0.72"/>
<circle cx="445.15" cy="232.94" r="1.1" fill="none" stroke="#4f6498" stroke-width="0.72"/>
<circle cx="447.94" cy="233.26" r="1.1" fill="none" stroke="#4f6498" stroke-width="0.72"/>
<circle cx="450.80" cy="232.81" r="1.1" fill="none" stroke="#4f6498" stroke-width="0.72"/>
<circle cx="453.67" cy="233.29" r="1.1" fill="none" stroke="#4f6498" stroke-width="0.72"/>
<circle cx="459.15" cy="233.20" r="1.1" fill="none" stroke="#4f6498" stroke-width="0.72"/>
<circle cx="464.70" cy="233.17" r="1.1" fill="none" stroke="#4f6498" stroke-width="0.72"/>
<circle cx="423.51" cy="235.60" r="1.1" fill="none" stroke="#4f6498" stroke-width="0.72"/>
<circle cx="426.06" cy="235.90" r="1.1" fill="none" stroke="#4f6498" stroke-width="0.72"/>
<circle cx="428.76" cy="235.96" r="1.1" fill="none" stroke="#4f6498" stroke-width="0.72"/>
<circle cx="431.89" cy="235.88" r="1.1" fill="none" stroke="#4f6498" stroke-width="0.72"/>
<circle cx="440.03" cy="235.93" r="1.1" fill="none" stroke="#4f6498" stroke-width="0.72"/>
<circle cx="442.82" cy="235.49" r="1.1" fill="none" stroke="#4f6498" stroke-width="0.72"/>
<circle cx="445.18" cy="235.55" r="1.1" fill="none" stroke="#4f6498" stroke-width="0.72"/>
<circle cx="447.79" cy="235.63" r="1.1" fill="none" stroke="#4f6498" stroke-width="0.72"/>
<circle cx="453.76" cy="235.67" r="1.1" fill="none" stroke="#4f6498" stroke-width="0.72"/>
<circle cx="456.29" cy="235.96" r="1.1" fill="none" stroke="#4f6498" stroke-width="0.72"/>
<circle cx="459.15" cy="235.60" r="1.1" fill="none" stroke="#4f6498" stroke-width="0.72"/>
<circle cx="461.51" cy="235.64" r="1.1" fill="none" stroke="#4f6498" stroke-width="0.72"/>
<circle cx="464.33" cy="235.93" r="1.1" fill="none" stroke="#4f6498" stroke-width="0.72"/>
<circle cx="466.96" cy="235.54" r="1.1" fill="none" stroke="#4f6498" stroke-width="0.72"/>
<circle cx="469.63" cy="235.92" r="1.1" fill="none" stroke="#4f6498" stroke-width="0.72"/>
<circle cx="424.70" cy="238.34" r="1.1" fill="none" stroke="#4f6498" stroke-width="0.72"/>
<circle cx="427.31" cy="238.37" r="1.1" fill="none" stroke="#4f6498" stroke-width="0.72"/>
<circle cx="430.30" cy="238.22" r="1.1" fill="none" stroke="#4f6498" stroke-width="0.72"/>
<circle cx="433.26" cy="238.32" r="1.1" fill="none" stroke="#4f6498" stroke-width="0.72"/>
<circle cx="435.46" cy="238.43" r="1.1" fill="none" stroke="#4f6498" stroke-width="0.72"/>
<circle cx="438.73" cy="238.66" r="1.1" fill="none" stroke="#4f6498" stroke-width="0.72"/>
<circle cx="441.34" cy="238.69" r="1.1" fill="none" stroke="#4f6498" stroke-width="0.72"/>
<circle cx="444.19" cy="238.66" r="1.1" fill="none" stroke="#4f6498" stroke-width="0.72"/>
<circle cx="446.75" cy="238.21" r="1.1" fill="none" stroke="#4f6498" stroke-width="0.72"/>
<circle cx="449.60" cy="238.45" r="1.1" fill="none" stroke="#4f6498" stroke-width="0.72"/>
<circle cx="451.89" cy="238.24" r="1.1" fill="none" stroke="#4f6498" stroke-width="0.72"/>
<circle cx="457.51" cy="238.13" r="1.1" fill="none" stroke="#4f6498" stroke-width="0.72"/>
<circle cx="460.25" cy="238.44" r="1.1" fill="none" stroke="#4f6498" stroke-width="0.72"/>
<circle cx="462.82" cy="238.15" r="1.1" fill="none" stroke="#4f6498" stroke-width="0.72"/>
<circle cx="466.06" cy="238.16" r="1.1" fill="none" stroke="#4f6498" stroke-width="0.72"/>
<circle cx="468.45" cy="238.63" r="1.1" fill="none" stroke="#4f6498" stroke-width="0.72"/>
<circle cx="416.75" cy="240.91" r="1.1" fill="none" stroke="#4f6498" stroke-width="0.72"/>
<circle cx="419.42" cy="241.00" r="1.1" fill="none" stroke="#4f6498" stroke-width="0.72"/>
<circle cx="422.33" cy="240.92" r="1.1" fill="none" stroke="#4f6498" stroke-width="0.72"/>
<circle cx="425.13" cy="241.04" r="1.1" fill="none" stroke="#4f6498" stroke-width="0.72"/>
<circle cx="427.66" cy="240.91" r="1.1" fill="none" stroke="#4f6498" stroke-width="0.72"/>
<circle cx="430.60" cy="241.41" r="1.1" fill="none" stroke="#4f6498" stroke-width="0.72"/>
<circle cx="433.38" cy="241.30" r="1.1" fill="none" stroke="#4f6498" stroke-width="0.72"/>
<circle cx="439.10" cy="241.05" r="1.1" fill="none" stroke="#4f6498" stroke-width="0.72"/>
<circle cx="441.82" cy="241.15" r="1.1" fill="none" stroke="#4f6498" stroke-width="0.72"/>
<circle cx="444.78" cy="241.40" r="1.1" fill="none" stroke="#4f6498" stroke-width="0.72"/>
<circle cx="447.16" cy="241.28" r="1.1" fill="none" stroke="#4f6498" stroke-width="0.72"/>
<circle cx="450.14" cy="241.29" r="1.1" fill="none" stroke="#4f6498" stroke-width="0.72"/>
<circle cx="453.11" cy="240.97" r="1.1" fill="none" stroke="#4f6498" stroke-width="0.72"/>
<circle cx="455.82" cy="241.09" r="1.1" fill="none" stroke="#4f6498" stroke-width="0.72"/>
<circle cx="458.48" cy="241.24" r="1.1" fill="none" stroke="#4f6498" stroke-width="0.72"/>
<circle cx="461.07" cy="241.12" r="1.1" fill="none" stroke="#4f6498" stroke-width="0.72"/>
<circle cx="463.80" cy="241.33" r="1.1" fill="none" stroke="#4f6498" stroke-width="0.72"/>
<circle cx="466.84" cy="241.47" r="1.1" fill="none" stroke="#4f6498" stroke-width="0.72"/>
<circle cx="469.50" cy="241.14" r="1.1" fill="none" stroke="#4f6498" stroke-width="0.72"/>
<circle cx="472.20" cy="241.38" r="1.1" fill="none" stroke="#4f6498" stroke-width="0.72"/>
<circle cx="474.98" cy="241.32" r="1.1" fill="none" stroke="#4f6498" stroke-width="0.72"/>
<circle cx="478.01" cy="240.92" r="1.1" fill="none" stroke="#4f6498" stroke-width="0.72"/>
<circle cx="425.54" cy="244.06" r="1.1" fill="none" stroke="#4f6498" stroke-width="0.72"/>
<circle cx="430.73" cy="243.86" r="1.1" fill="none" stroke="#4f6498" stroke-width="0.72"/>
<circle cx="436.51" cy="243.78" r="1.1" fill="none" stroke="#4f6498" stroke-width="0.72"/>
<circle cx="441.89" cy="243.89" r="1.1" fill="none" stroke="#4f6498" stroke-width="0.72"/>
<circle cx="444.56" cy="244.04" r="1.1" fill="none" stroke="#4f6498" stroke-width="0.72"/>
<circle cx="446.80" cy="244.11" r="1.1" fill="none" stroke="#4f6498" stroke-width="0.72"/>
<circle cx="449.56" cy="243.94" r="1.1" fill="none" stroke="#4f6498" stroke-width="0.72"/>
<circle cx="452.33" cy="243.65" r="1.1" fill="none" stroke="#4f6498" stroke-width="0.72"/>
<circle cx="454.93" cy="244.02" r="1.1" fill="none" stroke="#4f6498" stroke-width="0.72"/>
<circle cx="457.78" cy="243.75" r="1.1" fill="none" stroke="#4f6498" stroke-width="0.72"/>
<circle cx="460.23" cy="243.64" r="1.1" fill="none" stroke="#4f6498" stroke-width="0.72"/>
<circle cx="463.05" cy="243.87" r="1.1" fill="none" stroke="#4f6498" stroke-width="0.72"/>
<circle cx="468.49" cy="243.96" r="1.1" fill="none" stroke="#4f6498" stroke-width="0.72"/>
<circle cx="427.09" cy="246.31" r="1.1" fill="none" stroke="#4f6498" stroke-width="0.72"/>
<circle cx="429.49" cy="246.68" r="1.1" fill="none" stroke="#4f6498" stroke-width="0.72"/>
<circle cx="432.19" cy="246.64" r="1.1" fill="none" stroke="#4f6498" stroke-width="0.72"/>
<circle cx="435.06" cy="246.84" r="1.1" fill="none" stroke="#4f6498" stroke-width="0.72"/>
<circle cx="437.71" cy="246.69" r="1.1" fill="none" stroke="#4f6498" stroke-width="0.72"/>
<circle cx="440.45" cy="246.72" r="1.1" fill="none" stroke="#4f6498" stroke-width="0.72"/>
<circle cx="443.00" cy="246.87" r="1.1" fill="none" stroke="#4f6498" stroke-width="0.72"/>
<circle cx="445.73" cy="246.53" r="1.1" fill="none" stroke="#4f6498" stroke-width="0.72"/>
<circle cx="448.57" cy="246.49" r="1.1" fill="none" stroke="#4f6498" stroke-width="0.72"/>
<circle cx="451.14" cy="246.47" r="1.1" fill="none" stroke="#4f6498" stroke-width="0.72"/>
<circle cx="456.54" cy="246.60" r="1.1" fill="none" stroke="#4f6498" stroke-width="0.72"/>
<circle cx="459.20" cy="246.62" r="1.1" fill="none" stroke="#4f6498" stroke-width="0.72"/>
<circle cx="462.00" cy="246.88" r="1.1" fill="none" stroke="#4f6498" stroke-width="0.72"/>
<circle cx="464.69" cy="246.75" r="1.1" fill="none" stroke="#4f6498" stroke-width="0.72"/>
<circle cx="467.46" cy="246.50" r="1.1" fill="none" stroke="#4f6498" stroke-width="0.72"/>
<circle cx="434.79" cy="249.01" r="1.1" fill="none" stroke="#4f6498" stroke-width="0.72"/>
<circle cx="440.26" cy="249.07" r="1.1" fill="none" stroke="#4f6498" stroke-width="0.72"/>
<circle cx="445.75" cy="249.50" r="1.1" fill="none" stroke="#4f6498" stroke-width="0.72"/>
<circle cx="448.24" cy="249.42" r="1.1" fill="none" stroke="#4f6498" stroke-width="0.72"/>
<circle cx="450.93" cy="249.07" r="1.1" fill="none" stroke="#4f6498" stroke-width="0.72"/>
<circle cx="453.75" cy="249.26" r="1.1" fill="none" stroke="#4f6498" stroke-width="0.72"/>
<circle cx="456.62" cy="249.24" r="1.1" fill="none" stroke="#4f6498" stroke-width="0.72"/>
<circle cx="459.35" cy="249.16" r="1.1" fill="none" stroke="#4f6498" stroke-width="0.72"/>
<circle cx="441.08" cy="252.14" r="1.1" fill="none" stroke="#4f6498" stroke-width="0.72"/>
<circle cx="443.35" cy="252.16" r="1.1" fill="none" stroke="#4f6498" stroke-width="0.72"/>
<circle cx="448.37" cy="252.28" r="1.1" fill="none" stroke="#4f6498" stroke-width="0.72"/>
<circle cx="451.00" cy="252.21" r="1.1" fill="none" stroke="#4f6498" stroke-width="0.72"/>
<circle cx="453.85" cy="251.77" r="1.1" fill="none" stroke="#4f6498" stroke-width="0.72"/>
<circle cx="443.46" cy="254.79" r="1.1" fill="none" stroke="#4f6498" stroke-width="0.72"/>
<circle cx="445.97" cy="254.48" r="1.1" fill="none" stroke="#4f6498" stroke-width="0.72"/>
<circle cx="448.69" cy="254.71" r="1.1" fill="none" stroke="#4f6498" stroke-width="0.72"/>
<circle cx="450.82" cy="254.58" r="1.1" fill="none" stroke="#4f6498" stroke-width="0.72"/>
<circle cx="447.30" cy="186.60" r="1.1" fill="none" stroke="#4f6498" stroke-width="0.72"/>
<circle cx="447.30" cy="191.60" r="1.1" fill="none" stroke="#4f6498" stroke-width="0.72"/>
<circle cx="447.30" cy="203.80" r="1.1" fill="none" stroke="#4f6498" stroke-width="0.72"/>
<circle cx="447.30" cy="207.90" r="1.1" fill="none" stroke="#4f6498" stroke-width="0.72"/>
<circle cx="442.30" cy="257.60" r="1.1" fill="none" stroke="#4f6498" stroke-width="0.72"/>
<circle cx="447.30" cy="257.60" r="1.1" fill="none" stroke="#4f6498" stroke-width="0.72"/>
<circle cx="451.70" cy="257.60" r="1.1" fill="none" stroke="#4f6498" stroke-width="0.72"/>
<circle cx="447.30" cy="261.20" r="1.1" fill="none" stroke="#4f6498" stroke-width="0.72"/>
<circle cx="454.40" cy="223.40" r="1.1" fill="none" stroke="#4f6498" stroke-width="0.72"/>
<text transform="translate(35.41,343.90) scale(0.9768,1)" font-size="10.5" fill="#1a1a1a" stroke="#1a1a1a" stroke-width="0.154">miRs assoc. platelet #</text>
<line x1="86.10" y1="349.50" x2="86.10" y2="443.20" stroke="#111" stroke-width="1.3"/>
<line x1="82.90" y1="412.80" x2="86.10" y2="412.80" stroke="#111" stroke-width="1.3"/>
<text transform="translate(70.83,415.59) scale(0.9300,1)" font-size="9.3" fill="#111" stroke="#111" stroke-width="0.161">10</text>
<line x1="82.90" y1="382.40" x2="86.10" y2="382.40" stroke="#111" stroke-width="1.3"/>
<text transform="translate(70.83,385.19) scale(0.9300,1)" font-size="9.3" fill="#111" stroke="#111" stroke-width="0.161">20</text>
<line x1="82.90" y1="352.00" x2="86.10" y2="352.00" stroke="#111" stroke-width="1.3"/>
<text transform="translate(70.83,354.79) scale(0.9300,1)" font-size="9.3" fill="#111" stroke="#111" stroke-width="0.161">30</text>
<line x1="35.00" y1="443.20" x2="137.80" y2="443.20" stroke="#111" stroke-width="1.3"/>
<line x1="37.70" y1="443.20" x2="37.70" y2="446.40" stroke="#111" stroke-width="1.3"/>
<text transform="translate(30.19,457.80) scale(0.9300,1)" font-size="9.3" fill="#111" stroke="#111" stroke-width="0.161">-0.4</text>
<line x1="61.90" y1="443.20" x2="61.90" y2="446.40" stroke="#111" stroke-width="1.3"/>
<text transform="translate(54.44,457.80) scale(0.9300,1)" font-size="9.3" fill="#111" stroke="#111" stroke-width="0.161">-0.2</text>
<line x1="86.10" y1="443.20" x2="86.10" y2="446.40" stroke="#111" stroke-width="1.3"/>
<text transform="translate(80.08,457.80) scale(0.9300,1)" font-size="9.3" fill="#111" stroke="#111" stroke-width="0.161">0.0</text>
<line x1="110.30" y1="443.20" x2="110.30" y2="446.40" stroke="#111" stroke-width="1.3"/>
<text transform="translate(104.32,457.80) scale(0.9300,1)" font-size="9.3" fill="#111" stroke="#111" stroke-width="0.161">0.2</text>
<line x1="134.50" y1="443.20" x2="134.50" y2="446.40" stroke="#111" stroke-width="1.3"/>
<text transform="translate(128.48,457.80) scale(0.9300,1)" font-size="9.3" fill="#111" stroke="#111" stroke-width="0.161">0.4</text>
<text transform="translate(60.10,471.70) scale(0.7906,1)" font-size="10.3" fill="#111" stroke="#111" stroke-width="0.190">Correlation (R)</text>
<text transform="translate(29.80,424.90) rotate(-90) scale(0.7582,1)" font-size="10.6" fill="#111" stroke="#111" stroke-width="0.198">-Log 2 (P value)</text>
<circle cx="66.09" cy="429.02" r="1.35" fill="none" stroke="#2a4c8e" stroke-width="0.6"/>
<circle cx="68.59" cy="431.88" r="1.35" fill="none" stroke="#2a4c8e" stroke-width="0.6"/>
<circle cx="68.74" cy="431.90" r="1.35" fill="none" stroke="#2a4c8e" stroke-width="0.6"/>
<circle cx="69.21" cy="432.53" r="1.35" fill="none" stroke="#2a4c8e" stroke-width="0.6"/>
<circle cx="69.41" cy="432.52" r="1.35" fill="none" stroke="#2a4c8e" stroke-width="0.6"/>
<circle cx="102.47" cy="433.00" r="1.35" fill="none" stroke="#2a4c8e" stroke-width="0.6"/>
<circle cx="69.94" cy="432.85" r="1.35" fill="none" stroke="#2a4c8e" stroke-width="0.6"/>
<circle cx="101.74" cy="433.23" r="1.35" fill="none" stroke="#2a4c8e" stroke-width="0.6"/>
<circle cx="101.62" cy="433.70" r="1.35" fill="none" stroke="#2a4c8e" stroke-width="0.6"/>
<circle cx="70.66" cy="433.72" r="1.35" fill="none" stroke="#2a4c8e" stroke-width="0.6"/>
<circle cx="101.34" cy="433.86" r="1.35" fill="none" stroke="#2a4c8e" stroke-width="0.6"/>
<circle cx="70.89" cy="433.64" r="1.35" fill="none" stroke="#2a4c8e" stroke-width="0.6"/>
<circle cx="101.27" cy="434.25" r="1.35" fill="none" stroke="#2a4c8e" stroke-width="0.6"/>
<circle cx="100.92" cy="433.99" r="1.35" fill="none" stroke="#2a4c8e" stroke-width="0.6"/>
<circle cx="100.53" cy="434.93" r="1.35" fill="none" stroke="#2a4c8e" stroke-width="0.6"/>
<circle cx="71.72" cy="434.52" r="1.35" fill="none" stroke="#2a4c8e" stroke-width="0.6"/>
<circle cx="71.81" cy="434.57" r="1.35" fill="none" stroke="#2a4c8e" stroke-width="0.6"/>
<circle cx="71.84" cy="435.05" r="1.35" fill="none" stroke="#2a4c8e" stroke-width="0.6"/>
<circle cx="100.15" cy="435.24" r="1.35" fill="none" stroke="#2a4c8e" stroke-width="0.6"/>
<circle cx="72.22" cy="435.21" r="1.35" fill="none" stroke="#2a4c8e" stroke-width="0.6"/>
<circle cx="99.75" cy="435.58" r="1.35" fill="none" stroke="#2a4c8e" stroke-width="0.6"/>
<circle cx="99.74" cy="435.05" r="1.35" fill="none" stroke="#2a4c8e" stroke-width="0.6"/>
<circle cx="99.64" cy="435.61" r="1.35" fill="none" stroke="#2a4c8e" stroke-width="0.6"/>
<circle cx="72.64" cy="435.50" r="1.35" fill="none" stroke="#2a4c8e" stroke-width="0.6"/>
<circle cx="72.68" cy="435.31" r="1.35" fill="none" stroke="#2a4c8e" stroke-width="0.6"/>
<circle cx="72.74" cy="435.57" r="1.35" fill="none" stroke="#2a4c8e" stroke-width="0.6"/>
<circle cx="99.44" cy="435.25" r="1.35" fill="none" stroke="#2a4c8e" stroke-width="0.6"/>
<circle cx="99.41" cy="435.75" r="1.35" fill="none" stroke="#2a4c8e" stroke-width="0.6"/>
<circle cx="99.33" cy="435.71" r="1.35" fill="none" stroke="#2a4c8e" stroke-width="0.6"/>
<circle cx="72.96" cy="435.41" r="1.35" fill="none" stroke="#2a4c8e" stroke-width="0.6"/>
<circle cx="99.22" cy="435.50" r="1.35" fill="none" stroke="#2a4c8e" stroke-width="0.6"/>
<circle cx="73.00" cy="435.57" r="1.35" fill="none" stroke="#2a4c8e" stroke-width="0.6"/>
<circle cx="99.20" cy="435.69" r="1.35" fill="none" stroke="#2a4c8e" stroke-width="0.6"/>
<circle cx="99.16" cy="435.55" r="1.35" fill="none" stroke="#2a4c8e" stroke-width="0.6"/>
<circle cx="99.10" cy="435.65" r="1.35" fill="none" stroke="#2a4c8e" stroke-width="0.6"/>
<circle cx="99.09" cy="435.83" r="1.35" fill="none" stroke="#2a4c8e" stroke-width="0.6"/>
<circle cx="73.12" cy="435.56" r="1.35" fill="none" stroke="#2a4c8e" stroke-width="0.6"/>
<circle cx="99.04" cy="436.02" r="1.35" fill="none" stroke="#2a4c8e" stroke-width="0.6"/>
<circle cx="98.74" cy="436.05" r="1.35" fill="none" stroke="#2a4c8e" stroke-width="0.6"/>
<circle cx="98.61" cy="436.12" r="1.35" fill="none" stroke="#2a4c8e" stroke-width="0.6"/>
<circle cx="98.34" cy="436.44" r="1.35" fill="none" stroke="#2a4c8e" stroke-width="0.6"/>
<circle cx="73.90" cy="436.18" r="1.35" fill="none" stroke="#2a4c8e" stroke-width="0.6"/>
<circle cx="97.98" cy="436.95" r="1.35" fill="none" stroke="#2a4c8e" stroke-width="0.6"/>
<circle cx="74.42" cy="436.56" r="1.35" fill="none" stroke="#2a4c8e" stroke-width="0.6"/>
<circle cx="74.48" cy="436.90" r="1.35" fill="none" stroke="#2a4c8e" stroke-width="0.6"/>
<circle cx="74.56" cy="437.26" r="1.35" fill="none" stroke="#2a4c8e" stroke-width="0.6"/>
<circle cx="97.50" cy="436.78" r="1.35" fill="none" stroke="#2a4c8e" stroke-width="0.6"/>
<circle cx="97.24" cy="437.37" r="1.35" fill="none" stroke="#2a4c8e" stroke-width="0.6"/>
<circle cx="97.20" cy="437.59" r="1.35" fill="none" stroke="#2a4c8e" stroke-width="0.6"/>
<circle cx="75.04" cy="437.63" r="1.35" fill="none" stroke="#2a4c8e" stroke-width="0.6"/>
<circle cx="75.11" cy="437.23" r="1.35" fill="none" stroke="#2a4c8e" stroke-width="0.6"/>
<circle cx="75.11" cy="437.42" r="1.35" fill="none" stroke="#2a4c8e" stroke-width="0.6"/>
<circle cx="97.07" cy="437.66" r="1.35" fill="none" stroke="#2a4c8e" stroke-width="0.6"/>
<circle cx="97.04" cy="437.46" r="1.35" fill="none" stroke="#2a4c8e" stroke-width="0.6"/>
<circle cx="96.85" cy="437.77" r="1.35" fill="none" stroke="#2a4c8e" stroke-width="0.6"/>
<circle cx="75.39" cy="437.68" r="1.35" fill="none" stroke="#2a4c8e" stroke-width="0.6"/>
<circle cx="75.66" cy="437.41" r="1.35" fill="none" stroke="#2a4c8e" stroke-width="0.6"/>
<circle cx="96.34" cy="437.76" r="1.35" fill="none" stroke="#2a4c8e" stroke-width="0.6"/>
<circle cx="76.06" cy="438.28" r="1.35" fill="none" stroke="#2a4c8e" stroke-width="0.6"/>
<circle cx="96.05" cy="438.05" r="1.35" fill="none" stroke="#2a4c8e" stroke-width="0.6"/>
<circle cx="76.17" cy="438.04" r="1.35" fill="none" stroke="#2a4c8e" stroke-width="0.6"/>
<circle cx="95.95" cy="438.01" r="1.35" fill="none" stroke="#2a4c8e" stroke-width="0.6"/>
<circle cx="76.31" cy="437.95" r="1.35" fill="none" stroke="#2a4c8e" stroke-width="0.6"/>
<circle cx="76.45" cy="438.39" r="1.35" fill="none" stroke="#2a4c8e" stroke-width="0.6"/>
<circle cx="76.49" cy="438.23" r="1.35" fill="none" stroke="#2a4c8e" stroke-width="0.6"/>
<circle cx="76.54" cy="438.60" r="1.35" fill="none" stroke="#2a4c8e" stroke-width="0.6"/>
<circle cx="76.62" cy="438.07" r="1.35" fill="none" stroke="#2a4c8e" stroke-width="0.6"/>
<circle cx="76.65" cy="438.68" r="1.35" fill="none" stroke="#2a4c8e" stroke-width="0.6"/>
<circle cx="95.54" cy="438.13" r="1.35" fill="none" stroke="#2a4c8e" stroke-width="0.6"/>
<circle cx="76.77" cy="438.72" r="1.35" fill="none" stroke="#2a4c8e" stroke-width="0.6"/>
<circle cx="95.38" cy="438.50" r="1.35" fill="none" stroke="#2a4c8e" stroke-width="0.6"/>
<circle cx="95.31" cy="438.74" r="1.35" fill="none" stroke="#2a4c8e" stroke-width="0.6"/>
<circle cx="76.95" cy="438.58" r="1.35" fill="none" stroke="#2a4c8e" stroke-width="0.6"/>
<circle cx="95.14" cy="438.44" r="1.35" fill="none" stroke="#2a4c8e" stroke-width="0.6"/>
<circle cx="77.07" cy="439.01" r="1.35" fill="none" stroke="#2a4c8e" stroke-width="0.6"/>
<circle cx="77.11" cy="438.81" r="1.35" fill="none" stroke="#2a4c8e" stroke-width="0.6"/>
<circle cx="77.11" cy="438.52" r="1.35" fill="none" stroke="#2a4c8e" stroke-width="0.6"/>
<circle cx="77.24" cy="438.87" r="1.35" fill="none" stroke="#2a4c8e" stroke-width="0.6"/>
<circle cx="94.95" cy="438.61" r="1.35" fill="none" stroke="#2a4c8e" stroke-width="0.6"/>
<circle cx="94.71" cy="438.90" r="1.35" fill="none" stroke="#2a4c8e" stroke-width="0.6"/>
<circle cx="77.68" cy="439.15" r="1.35" fill="none" stroke="#2a4c8e" stroke-width="0.6"/>
<circle cx="77.79" cy="439.23" r="1.35" fill="none" stroke="#2a4c8e" stroke-width="0.6"/>
<circle cx="77.93" cy="438.97" r="1.35" fill="none" stroke="#2a4c8e" stroke-width="0.6"/>
<circle cx="78.08" cy="439.12" r="1.35" fill="none" stroke="#2a4c8e" stroke-width="0.6"/>
<circle cx="94.09" cy="439.32" r="1.35" fill="none" stroke="#2a4c8e" stroke-width="0.6"/>
<circle cx="94.05" cy="439.39" r="1.35" fill="none" stroke="#2a4c8e" stroke-width="0.6"/>
<circle cx="78.27" cy="439.70" r="1.35" fill="none" stroke="#2a4c8e" stroke-width="0.6"/>
<circle cx="93.91" cy="439.52" r="1.35" fill="none" stroke="#2a4c8e" stroke-width="0.6"/>
<circle cx="93.89" cy="439.69" r="1.35" fill="none" stroke="#2a4c8e" stroke-width="0.6"/>
<circle cx="78.59" cy="439.55" r="1.35" fill="none" stroke="#2a4c8e" stroke-width="0.6"/>
<circle cx="78.62" cy="439.44" r="1.35" fill="none" stroke="#2a4c8e" stroke-width="0.6"/>
<circle cx="93.55" cy="439.53" r="1.35" fill="none" stroke="#2a4c8e" stroke-width="0.6"/>
<circle cx="93.51" cy="439.37" r="1.35" fill="none" stroke="#2a4c8e" stroke-width="0.6"/>
<circle cx="78.73" cy="439.63" r="1.35" fill="none" stroke="#2a4c8e" stroke-width="0.6"/>
<circle cx="93.44" cy="439.84" r="1.35" fill="none" stroke="#2a4c8e" stroke-width="0.6"/>
<circle cx="78.79" cy="440.00" r="1.35" fill="none" stroke="#2a4c8e" stroke-width="0.6"/>
<circle cx="93.37" cy="439.60" r="1.35" fill="none" stroke="#2a4c8e" stroke-width="0.6"/>
<circle cx="93.35" cy="439.94" r="1.35" fill="none" stroke="#2a4c8e" stroke-width="0.6"/>
<circle cx="78.96" cy="440.04" r="1.35" fill="none" stroke="#2a4c8e" stroke-width="0.6"/>
<circle cx="93.13" cy="440.06" r="1.35" fill="none" stroke="#2a4c8e" stroke-width="0.6"/>
<circle cx="79.07" cy="440.25" r="1.35" fill="none" stroke="#2a4c8e" stroke-width="0.6"/>
<circle cx="93.03" cy="440.04" r="1.35" fill="none" stroke="#2a4c8e" stroke-width="0.6"/>
<circle cx="79.28" cy="440.01" r="1.35" fill="none" stroke="#2a4c8e" stroke-width="0.6"/>
<circle cx="79.31" cy="440.09" r="1.35" fill="none" stroke="#2a4c8e" stroke-width="0.6"/>
<circle cx="92.85" cy="439.74" r="1.35" fill="none" stroke="#2a4c8e" stroke-width="0.6"/>
<circle cx="79.38" cy="439.76" r="1.35" fill="none" stroke="#2a4c8e" stroke-width="0.6"/>
<circle cx="79.47" cy="440.15" r="1.35" fill="none" stroke="#2a4c8e" stroke-width="0.6"/>
<circle cx="92.59" cy="440.15" r="1.35" fill="none" stroke="#2a4c8e" stroke-width="0.6"/>
<circle cx="92.34" cy="440.12" r="1.35" fill="none" stroke="#2a4c8e" stroke-width="0.6"/>
<circle cx="92.30" cy="440.30" r="1.35" fill="none" stroke="#2a4c8e" stroke-width="0.6"/>
<circle cx="92.25" cy="440.53" r="1.35" fill="none" stroke="#2a4c8e" stroke-width="0.6"/>
<circle cx="80.04" cy="440.49" r="1.35" fill="none" stroke="#2a4c8e" stroke-width="0.6"/>
<circle cx="80.06" cy="440.41" r="1.35" fill="none" stroke="#2a4c8e" stroke-width="0.6"/>
<circle cx="80.13" cy="440.71" r="1.35" fill="none" stroke="#2a4c8e" stroke-width="0.6"/>
<circle cx="92.02" cy="440.24" r="1.35" fill="none" stroke="#2a4c8e" stroke-width="0.6"/>
<circle cx="80.18" cy="440.82" r="1.35" fill="none" stroke="#2a4c8e" stroke-width="0.6"/>
<circle cx="91.99" cy="440.69" r="1.35" fill="none" stroke="#2a4c8e" stroke-width="0.6"/>
<circle cx="80.25" cy="440.54" r="1.35" fill="none" stroke="#2a4c8e" stroke-width="0.6"/>
<circle cx="91.94" cy="440.73" r="1.35" fill="none" stroke="#2a4c8e" stroke-width="0.6"/>
<circle cx="91.94" cy="440.90" r="1.35" fill="none" stroke="#2a4c8e" stroke-width="0.6"/>
<circle cx="91.92" cy="440.71" r="1.35" fill="none" stroke="#2a4c8e" stroke-width="0.6"/>
<circle cx="80.30" cy="440.74" r="1.35" fill="none" stroke="#2a4c8e" stroke-width="0.6"/>
<circle cx="80.31" cy="440.76" r="1.35" fill="none" stroke="#2a4c8e" stroke-width="0.6"/>
<circle cx="80.32" cy="440.92" r="1.35" fill="none" stroke="#2a4c8e" stroke-width="0.6"/>
<circle cx="91.88" cy="440.90" r="1.35" fill="none" stroke="#2a4c8e" stroke-width="0.6"/>
<circle cx="80.38" cy="440.51" r="1.35" fill="none" stroke="#2a4c8e" stroke-width="0.6"/>
<circle cx="80.45" cy="440.37" r="1.35" fill="none" stroke="#2a4c8e" stroke-width="0.6"/>
<circle cx="91.67" cy="440.59" r="1.35" fill="none" stroke="#2a4c8e" stroke-width="0.6"/>
<circle cx="80.54" cy="440.65" r="1.35" fill="none" stroke="#2a4c8e" stroke-width="0.6"/>
<circle cx="91.64" cy="440.58" r="1.35" fill="none" stroke="#2a4c8e" stroke-width="0.6"/>
<circle cx="80.62" cy="440.76" r="1.35" fill="none" stroke="#2a4c8e" stroke-width="0.6"/>
<circle cx="80.64" cy="441.11" r="1.35" fill="none" stroke="#2a4c8e" stroke-width="0.6"/>
<circle cx="80.66" cy="440.59" r="1.35" fill="none" stroke="#2a4c8e" stroke-width="0.6"/>
<circle cx="91.50" cy="440.75" r="1.35" fill="none" stroke="#2a4c8e" stroke-width="0.6"/>
<circle cx="91.44" cy="441.10" r="1.35" fill="none" stroke="#2a4c8e" stroke-width="0.6"/>
<circle cx="91.18" cy="440.74" r="1.35" fill="none" stroke="#2a4c8e" stroke-width="0.6"/>
<circle cx="91.14" cy="440.91" r="1.35" fill="none" stroke="#2a4c8e" stroke-width="0.6"/>
<circle cx="91.13" cy="441.06" r="1.35" fill="none" stroke="#2a4c8e" stroke-width="0.6"/>
<circle cx="91.00" cy="441.28" r="1.35" fill="none" stroke="#2a4c8e" stroke-width="0.6"/>
<circle cx="81.24" cy="441.36" r="1.35" fill="none" stroke="#2a4c8e" stroke-width="0.6"/>
<circle cx="90.85" cy="440.99" r="1.35" fill="none" stroke="#2a4c8e" stroke-width="0.6"/>
<circle cx="90.66" cy="441.58" r="1.35" fill="none" stroke="#2a4c8e" stroke-width="0.6"/>
<circle cx="81.55" cy="441.22" r="1.35" fill="none" stroke="#2a4c8e" stroke-width="0.6"/>
<circle cx="90.62" cy="441.02" r="1.35" fill="none" stroke="#2a4c8e" stroke-width="0.6"/>
<circle cx="81.60" cy="441.05" r="1.35" fill="none" stroke="#2a4c8e" stroke-width="0.6"/>
<circle cx="81.62" cy="441.25" r="1.35" fill="none" stroke="#2a4c8e" stroke-width="0.6"/>
<circle cx="81.67" cy="441.54" r="1.35" fill="none" stroke="#2a4c8e" stroke-width="0.6"/>
<circle cx="90.48" cy="441.05" r="1.35" fill="none" stroke="#2a4c8e" stroke-width="0.6"/>
<circle cx="90.47" cy="441.16" r="1.35" fill="none" stroke="#2a4c8e" stroke-width="0.6"/>
<circle cx="90.46" cy="441.57" r="1.35" fill="none" stroke="#2a4c8e" stroke-width="0.6"/>
<circle cx="90.42" cy="441.61" r="1.35" fill="none" stroke="#2a4c8e" stroke-width="0.6"/>
<circle cx="90.38" cy="441.19" r="1.35" fill="none" stroke="#2a4c8e" stroke-width="0.6"/>
<circle cx="81.89" cy="441.12" r="1.35" fill="none" stroke="#2a4c8e" stroke-width="0.6"/>
<circle cx="81.90" cy="441.54" r="1.35" fill="none" stroke="#2a4c8e" stroke-width="0.6"/>
<circle cx="81.96" cy="441.67" r="1.35" fill="none" stroke="#2a4c8e" stroke-width="0.6"/>
<circle cx="81.98" cy="441.16" r="1.35" fill="none" stroke="#2a4c8e" stroke-width="0.6"/>
<circle cx="82.00" cy="441.50" r="1.35" fill="none" stroke="#2a4c8e" stroke-width="0.6"/>
<circle cx="82.06" cy="441.26" r="1.35" fill="none" stroke="#2a4c8e" stroke-width="0.6"/>
<circle cx="82.07" cy="441.59" r="1.35" fill="none" stroke="#2a4c8e" stroke-width="0.6"/>
<circle cx="82.07" cy="441.25" r="1.35" fill="none" stroke="#2a4c8e" stroke-width="0.6"/>
<circle cx="82.17" cy="441.31" r="1.35" fill="none" stroke="#2a4c8e" stroke-width="0.6"/>
<circle cx="89.96" cy="441.63" r="1.35" fill="none" stroke="#2a4c8e" stroke-width="0.6"/>
<circle cx="89.78" cy="442.00" r="1.35" fill="none" stroke="#2a4c8e" stroke-width="0.6"/>
<circle cx="82.44" cy="441.37" r="1.35" fill="none" stroke="#2a4c8e" stroke-width="0.6"/>
<circle cx="82.51" cy="441.45" r="1.35" fill="none" stroke="#2a4c8e" stroke-width="0.6"/>
<circle cx="89.67" cy="441.53" r="1.35" fill="none" stroke="#2a4c8e" stroke-width="0.6"/>
<circle cx="89.60" cy="441.99" r="1.35" fill="none" stroke="#2a4c8e" stroke-width="0.6"/>
<circle cx="82.60" cy="441.59" r="1.35" fill="none" stroke="#2a4c8e" stroke-width="0.6"/>
<circle cx="82.61" cy="441.62" r="1.35" fill="none" stroke="#2a4c8e" stroke-width="0.6"/>
<circle cx="89.45" cy="441.79" r="1.35" fill="none" stroke="#2a4c8e" stroke-width="0.6"/>
<circle cx="82.79" cy="442.11" r="1.35" fill="none" stroke="#2a4c8e" stroke-width="0.6"/>
<circle cx="89.36" cy="441.72" r="1.35" fill="none" stroke="#2a4c8e" stroke-width="0.6"/>
<circle cx="82.88" cy="441.88" r="1.35" fill="none" stroke="#2a4c8e" stroke-width="0.6"/>
<circle cx="89.31" cy="441.89" r="1.35" fill="none" stroke="#2a4c8e" stroke-width="0.6"/>
<circle cx="82.89" cy="441.90" r="1.35" fill="none" stroke="#2a4c8e" stroke-width="0.6"/>
<circle cx="82.90" cy="441.87" r="1.35" fill="none" stroke="#2a4c8e" stroke-width="0.6"/>
<circle cx="82.91" cy="442.12" r="1.35" fill="none" stroke="#2a4c8e" stroke-width="0.6"/>
<circle cx="82.95" cy="441.72" r="1.35" fill="none" stroke="#2a4c8e" stroke-width="0.6"/>
<circle cx="89.24" cy="441.94" r="1.35" fill="none" stroke="#2a4c8e" stroke-width="0.6"/>
<circle cx="89.15" cy="441.72" r="1.35" fill="none" stroke="#2a4c8e" stroke-width="0.6"/>
<circle cx="89.08" cy="442.26" r="1.35" fill="none" stroke="#2a4c8e" stroke-width="0.6"/>
<circle cx="89.07" cy="441.96" r="1.35" fill="none" stroke="#2a4c8e" stroke-width="0.6"/>
<circle cx="89.05" cy="442.37" r="1.35" fill="none" stroke="#2a4c8e" stroke-width="0.6"/>
<circle cx="88.99" cy="442.16" r="1.35" fill="none" stroke="#2a4c8e" stroke-width="0.6"/>
<circle cx="88.98" cy="441.84" r="1.35" fill="none" stroke="#2a4c8e" stroke-width="0.6"/>
<circle cx="83.23" cy="442.35" r="1.35" fill="none" stroke="#2a4c8e" stroke-width="0.6"/>
<circle cx="88.97" cy="441.91" r="1.35" fill="none" stroke="#2a4c8e" stroke-width="0.6"/>
<circle cx="83.33" cy="442.20" r="1.35" fill="none" stroke="#2a4c8e" stroke-width="0.6"/>
<circle cx="83.39" cy="442.31" r="1.35" fill="none" stroke="#2a4c8e" stroke-width="0.6"/>
<circle cx="88.77" cy="441.87" r="1.35" fill="none" stroke="#2a4c8e" stroke-width="0.6"/>
<circle cx="88.74" cy="441.94" r="1.35" fill="none" stroke="#2a4c8e" stroke-width="0.6"/>
<circle cx="83.48" cy="442.11" r="1.35" fill="none" stroke="#2a4c8e" stroke-width="0.6"/>
<circle cx="88.61" cy="442.11" r="1.35" fill="none" stroke="#2a4c8e" stroke-width="0.6"/>
<circle cx="83.68" cy="442.12" r="1.35" fill="none" stroke="#2a4c8e" stroke-width="0.6"/>
<circle cx="83.76" cy="442.13" r="1.35" fill="none" stroke="#2a4c8e" stroke-width="0.6"/>
<circle cx="88.43" cy="442.19" r="1.35" fill="none" stroke="#2a4c8e" stroke-width="0.6"/>
<circle cx="88.40" cy="442.64" r="1.35" fill="none" stroke="#2a4c8e" stroke-width="0.6"/>
<circle cx="83.86" cy="442.30" r="1.35" fill="none" stroke="#2a4c8e" stroke-width="0.6"/>
<circle cx="83.88" cy="442.31" r="1.35" fill="none" stroke="#2a4c8e" stroke-width="0.6"/>
<circle cx="88.28" cy="442.18" r="1.35" fill="none" stroke="#2a4c8e" stroke-width="0.6"/>
<circle cx="83.97" cy="442.16" r="1.35" fill="none" stroke="#2a4c8e" stroke-width="0.6"/>
<circle cx="84.09" cy="442.26" r="1.35" fill="none" stroke="#2a4c8e" stroke-width="0.6"/>
<circle cx="87.95" cy="442.76" r="1.35" fill="none" stroke="#2a4c8e" stroke-width="0.6"/>
<circle cx="87.94" cy="442.77" r="1.35" fill="none" stroke="#2a4c8e" stroke-width="0.6"/>
<circle cx="84.37" cy="442.31" r="1.35" fill="none" stroke="#2a4c8e" stroke-width="0.6"/>
<circle cx="84.45" cy="442.50" r="1.35" fill="none" stroke="#2a4c8e" stroke-width="0.6"/>
<circle cx="87.75" cy="442.63" r="1.35" fill="none" stroke="#2a4c8e" stroke-width="0.6"/>
<circle cx="84.46" cy="442.62" r="1.35" fill="none" stroke="#2a4c8e" stroke-width="0.6"/>
<circle cx="87.73" cy="442.37" r="1.35" fill="none" stroke="#2a4c8e" stroke-width="0.6"/>
<circle cx="84.49" cy="442.28" r="1.35" fill="none" stroke="#2a4c8e" stroke-width="0.6"/>
<circle cx="87.68" cy="442.81" r="1.35" fill="none" stroke="#2a4c8e" stroke-width="0.6"/>
<circle cx="84.52" cy="442.34" r="1.35" fill="none" stroke="#2a4c8e" stroke-width="0.6"/>
<circle cx="84.53" cy="442.53" r="1.35" fill="none" stroke="#2a4c8e" stroke-width="0.6"/>
<circle cx="87.67" cy="442.79" r="1.35" fill="none" stroke="#2a4c8e" stroke-width="0.6"/>
<circle cx="84.59" cy="442.76" r="1.35" fill="none" stroke="#2a4c8e" stroke-width="0.6"/>
<circle cx="87.60" cy="442.57" r="1.35" fill="none" stroke="#2a4c8e" stroke-width="0.6"/>
<circle cx="87.58" cy="442.85" r="1.35" fill="none" stroke="#2a4c8e" stroke-width="0.6"/>
<circle cx="84.64" cy="442.99" r="1.35" fill="none" stroke="#2a4c8e" stroke-width="0.6"/>
<circle cx="84.71" cy="442.66" r="1.35" fill="none" stroke="#2a4c8e" stroke-width="0.6"/>
<circle cx="84.80" cy="442.98" r="1.35" fill="none" stroke="#2a4c8e" stroke-width="0.6"/>
<circle cx="87.40" cy="442.73" r="1.35" fill="none" stroke="#2a4c8e" stroke-width="0.6"/>
<circle cx="87.38" cy="442.64" r="1.35" fill="none" stroke="#2a4c8e" stroke-width="0.6"/>
<circle cx="84.90" cy="443.09" r="1.35" fill="none" stroke="#2a4c8e" stroke-width="0.6"/>
<circle cx="87.30" cy="442.94" r="1.35" fill="none" stroke="#2a4c8e" stroke-width="0.6"/>
<circle cx="87.27" cy="442.51" r="1.35" fill="none" stroke="#2a4c8e" stroke-width="0.6"/>
<circle cx="84.97" cy="442.81" r="1.35" fill="none" stroke="#2a4c8e" stroke-width="0.6"/>
<circle cx="84.99" cy="442.70" r="1.35" fill="none" stroke="#2a4c8e" stroke-width="0.6"/>
<circle cx="84.99" cy="442.79" r="1.35" fill="none" stroke="#2a4c8e" stroke-width="0.6"/>
<circle cx="85.01" cy="442.97" r="1.35" fill="none" stroke="#2a4c8e" stroke-width="0.6"/>
<circle cx="87.14" cy="442.70" r="1.35" fill="none" stroke="#2a4c8e" stroke-width="0.6"/>
<circle cx="87.12" cy="442.89" r="1.35" fill="none" stroke="#2a4c8e" stroke-width="0.6"/>
<circle cx="87.10" cy="442.65" r="1.35" fill="none" stroke="#2a4c8e" stroke-width="0.6"/>
<circle cx="85.21" cy="442.83" r="1.35" fill="none" stroke="#2a4c8e" stroke-width="0.6"/>
<circle cx="86.88" cy="443.19" r="1.35" fill="none" stroke="#2a4c8e" stroke-width="0.6"/>
<circle cx="85.34" cy="443.09" r="1.35" fill="none" stroke="#2a4c8e" stroke-width="0.6"/>
<circle cx="86.85" cy="442.83" r="1.35" fill="none" stroke="#2a4c8e" stroke-width="0.6"/>
<circle cx="86.77" cy="442.80" r="1.35" fill="none" stroke="#2a4c8e" stroke-width="0.6"/>
<circle cx="86.72" cy="443.04" r="1.35" fill="none" stroke="#2a4c8e" stroke-width="0.6"/>
<circle cx="86.71" cy="442.96" r="1.35" fill="none" stroke="#2a4c8e" stroke-width="0.6"/>
<circle cx="85.49" cy="443.32" r="1.35" fill="none" stroke="#2a4c8e" stroke-width="0.6"/>
<circle cx="86.71" cy="442.84" r="1.35" fill="none" stroke="#2a4c8e" stroke-width="0.6"/>
<circle cx="86.70" cy="443.28" r="1.35" fill="none" stroke="#2a4c8e" stroke-width="0.6"/>
<circle cx="85.53" cy="442.81" r="1.35" fill="none" stroke="#2a4c8e" stroke-width="0.6"/>
<circle cx="86.64" cy="443.21" r="1.35" fill="none" stroke="#2a4c8e" stroke-width="0.6"/>
<circle cx="86.62" cy="443.27" r="1.35" fill="none" stroke="#2a4c8e" stroke-width="0.6"/>
<circle cx="85.62" cy="442.81" r="1.35" fill="none" stroke="#2a4c8e" stroke-width="0.6"/>
<circle cx="85.69" cy="443.01" r="1.35" fill="none" stroke="#2a4c8e" stroke-width="0.6"/>
<circle cx="85.70" cy="443.20" r="1.35" fill="none" stroke="#2a4c8e" stroke-width="0.6"/>
<circle cx="85.72" cy="443.00" r="1.35" fill="none" stroke="#2a4c8e" stroke-width="0.6"/>
<circle cx="85.72" cy="442.79" r="1.35" fill="none" stroke="#2a4c8e" stroke-width="0.6"/>
<circle cx="85.79" cy="443.27" r="1.35" fill="none" stroke="#2a4c8e" stroke-width="0.6"/>
<circle cx="86.41" cy="443.08" r="1.35" fill="none" stroke="#2a4c8e" stroke-width="0.6"/>
<circle cx="85.84" cy="442.88" r="1.35" fill="none" stroke="#2a4c8e" stroke-width="0.6"/>
<circle cx="85.86" cy="442.80" r="1.35" fill="none" stroke="#2a4c8e" stroke-width="0.6"/>
<circle cx="86.24" cy="443.16" r="1.35" fill="none" stroke="#2a4c8e" stroke-width="0.6"/>
<circle cx="86.20" cy="443.02" r="1.35" fill="none" stroke="#2a4c8e" stroke-width="0.6"/>
<circle cx="86.03" cy="443.39" r="1.35" fill="none" stroke="#2a4c8e" stroke-width="0.6"/>
<circle cx="52.46" cy="409.88" r="1.35" fill="none" stroke="#6cb04e" stroke-width="0.6"/>
<circle cx="53.33" cy="411.32" r="1.35" fill="none" stroke="#6cb04e" stroke-width="0.6"/>
<circle cx="54.20" cy="412.67" r="1.35" fill="none" stroke="#6cb04e" stroke-width="0.6"/>
<circle cx="55.08" cy="414.30" r="1.35" fill="none" stroke="#6cb04e" stroke-width="0.6"/>
<circle cx="55.95" cy="415.63" r="1.35" fill="none" stroke="#6cb04e" stroke-width="0.6"/>
<circle cx="56.82" cy="416.58" r="1.35" fill="none" stroke="#6cb04e" stroke-width="0.6"/>
<circle cx="57.69" cy="418.22" r="1.35" fill="none" stroke="#6cb04e" stroke-width="0.6"/>
<circle cx="58.56" cy="419.80" r="1.35" fill="none" stroke="#6cb04e" stroke-width="0.6"/>
<circle cx="59.43" cy="420.97" r="1.35" fill="none" stroke="#6cb04e" stroke-width="0.6"/>
<circle cx="112.48" cy="421.29" r="1.35" fill="none" stroke="#c8405e" stroke-width="0.6"/>
<circle cx="60.30" cy="422.07" r="1.35" fill="none" stroke="#6cb04e" stroke-width="0.6"/>
<circle cx="111.30" cy="423.02" r="1.35" fill="none" stroke="#c8405e" stroke-width="0.6"/>
<circle cx="61.17" cy="423.02" r="1.35" fill="none" stroke="#6cb04e" stroke-width="0.6"/>
<circle cx="62.05" cy="424.23" r="1.35" fill="none" stroke="#6cb04e" stroke-width="0.6"/>
<circle cx="110.13" cy="424.43" r="1.35" fill="none" stroke="#c8405e" stroke-width="0.6"/>
<circle cx="62.92" cy="425.63" r="1.35" fill="none" stroke="#6cb04e" stroke-width="0.6"/>
<circle cx="108.95" cy="425.69" r="1.35" fill="none" stroke="#c8405e" stroke-width="0.6"/>
<circle cx="63.63" cy="426.05" r="1.35" fill="none" stroke="#6cb04e" stroke-width="0.6"/>
<circle cx="63.79" cy="426.31" r="1.35" fill="none" stroke="#6cb04e" stroke-width="0.6"/>
<circle cx="107.78" cy="427.19" r="1.35" fill="none" stroke="#c8405e" stroke-width="0.6"/>
<circle cx="64.66" cy="427.22" r="1.35" fill="none" stroke="#6cb04e" stroke-width="0.6"/>
<circle cx="65.53" cy="428.59" r="1.35" fill="none" stroke="#6cb04e" stroke-width="0.6"/>
<circle cx="106.60" cy="428.86" r="1.35" fill="none" stroke="#c8405e" stroke-width="0.6"/>
<circle cx="105.43" cy="430.19" r="1.35" fill="none" stroke="#c8405e" stroke-width="0.6"/>
<circle cx="104.75" cy="430.53" r="1.35" fill="none" stroke="#c8405e" stroke-width="0.6"/>
<circle cx="104.37" cy="431.00" r="1.35" fill="none" stroke="#c8405e" stroke-width="0.6"/>
<circle cx="104.25" cy="431.43" r="1.35" fill="none" stroke="#c8405e" stroke-width="0.6"/>
<circle cx="40.0" cy="372.7" r="1.6" fill="none" stroke="#8cc46c" stroke-width="0.8"/>
<circle cx="41.9" cy="386.0" r="1.6" fill="none" stroke="#8cc46c" stroke-width="0.8"/>
<ellipse cx="261.2" cy="361.1" rx="23.3" ry="23.4" fill="none" stroke="#bdbdbd" stroke-width="1.3"/>
<ellipse cx="242.0" cy="387.0" rx="22.6" ry="20.7" fill="none" stroke="#bdbdbd" stroke-width="1.3"/>
<ellipse cx="273.9" cy="389.2" rx="18.5" ry="16.8" fill="none" stroke="#bdbdbd" stroke-width="1.3"/>
<text transform="translate(254.72,363.90) scale(0.9747,1)" font-size="8.8" fill="#111" stroke="#111" stroke-width="0.154">114</text>
<text transform="translate(232.40,392.60) scale(1.0114,1)" font-size="8.8" fill="#111" stroke="#111" stroke-width="0.148">40</text>
<text transform="translate(273.00,396.80) scale(0.9896,1)" font-size="8.8" fill="#111" stroke="#111" stroke-width="0.152">23</text>
<text transform="translate(282.18,342.10) scale(1.0321,1)" font-size="8.6" fill="#111" stroke="#111" stroke-width="0.145">BM MKs</text>
<text transform="translate(204.29,361.50) scale(1.0106,1)" font-size="8.6" fill="#111" stroke="#111" stroke-width="0.148">Plt #</text>
<text transform="translate(201.62,371.50) scale(0.9428,1)" font-size="8.6" fill="#111" stroke="#111" stroke-width="0.159">assoc.</text>
<text transform="translate(279.69,413.50) scale(1.0209,1)" font-size="8.6" fill="#111" stroke="#111" stroke-width="0.147">CD61+ MKs,</text>
<text transform="translate(284.41,423.90) scale(0.9881,1)" font-size="8.6" fill="#111" stroke="#111" stroke-width="0.152">D6 vs D13</text>
<line x1="260.4" y1="381.8" x2="260.4" y2="427.5" stroke="#a8183a" stroke-width="1.2"/>
<path d="M258.0,426.0 L262.8,426.0 L260.4,431.6 Z" fill="#a8183a"/>
<rect x="222.8" y="436.8" width="75.2" height="38.7" fill="#e6c5bc"/>
<text transform="translate(235.90,448.20) scale(1.0294,1)" font-size="8.4" font-style="italic" fill="#111" stroke="#111" stroke-width="0.146">miR-125a-5p</text>
<text transform="translate(241.74,458.40) scale(1.1405,1)" font-size="8.4" font-style="italic" fill="#111" stroke="#111" stroke-width="0.132">let-7e-5p</text>
<text transform="translate(241.73,468.60) scale(1.1571,1)" font-size="8.4" font-style="italic" fill="#111" stroke="#111" stroke-width="0.130">let-7c-5p</text>
<line x1="410.40" y1="348.50" x2="410.40" y2="443.30" stroke="#111" stroke-width="1.3"/>
<line x1="407.20" y1="443.30" x2="410.40" y2="443.30" stroke="#111" stroke-width="1.3"/>
<text transform="translate(388.22,446.09) scale(0.9300,1)" font-size="9.3" fill="#111" stroke="#111" stroke-width="0.161">100</text>
<line x1="407.20" y1="420.28" x2="410.40" y2="420.28" stroke="#111" stroke-width="1.3"/>
<text transform="translate(388.22,423.07) scale(0.9300,1)" font-size="9.3" fill="#111" stroke="#111" stroke-width="0.161">150</text>
<line x1="407.20" y1="397.25" x2="410.40" y2="397.25" stroke="#111" stroke-width="1.3"/>
<text transform="translate(388.22,400.04) scale(0.9300,1)" font-size="9.3" fill="#111" stroke="#111" stroke-width="0.161">200</text>
<line x1="407.20" y1="374.23" x2="410.40" y2="374.23" stroke="#111" stroke-width="1.3"/>
<text transform="translate(388.22,377.02) scale(0.9300,1)" font-size="9.3" fill="#111" stroke="#111" stroke-width="0.161">250</text>
<line x1="407.20" y1="351.20" x2="410.40" y2="351.20" stroke="#111" stroke-width="1.3"/>
<text transform="translate(388.22,353.99) scale(0.9300,1)" font-size="9.3" fill="#111" stroke="#111" stroke-width="0.161">300</text>
<line x1="409.80" y1="443.30" x2="497.00" y2="443.30" stroke="#111" stroke-width="1.3"/>
<line x1="418.70" y1="443.30" x2="418.70" y2="446.50" stroke="#111" stroke-width="1.3"/>
<text transform="translate(416.28,457.60) scale(0.9300,1)" font-size="9.3" fill="#111" stroke="#111" stroke-width="0.161">6</text>
<line x1="436.50" y1="443.30" x2="436.50" y2="446.50" stroke="#111" stroke-width="1.3"/>
<text transform="translate(434.08,457.60) scale(0.9300,1)" font-size="9.3" fill="#111" stroke="#111" stroke-width="0.161">8</text>
<line x1="454.30" y1="443.30" x2="454.30" y2="446.50" stroke="#111" stroke-width="1.3"/>
<text transform="translate(449.29,457.60) scale(0.9300,1)" font-size="9.3" fill="#111" stroke="#111" stroke-width="0.161">10</text>
<line x1="472.10" y1="443.30" x2="472.10" y2="446.50" stroke="#111" stroke-width="1.3"/>
<text transform="translate(467.14,457.60) scale(0.9300,1)" font-size="9.3" fill="#111" stroke="#111" stroke-width="0.161">12</text>
<line x1="489.90" y1="443.30" x2="489.90" y2="446.50" stroke="#111" stroke-width="1.3"/>
<text transform="translate(484.89,457.60) scale(0.9300,1)" font-size="9.3" fill="#111" stroke="#111" stroke-width="0.161">14</text>
<text transform="translate(430.31,470.60) scale(0.8613,1)" font-size="9.6" font-style="italic" fill="#111" stroke="#111" stroke-width="0.174">miR-125a-5p</text>
<text transform="translate(383.40,429.67) rotate(-90) scale(0.8380,1)" font-size="10.2" fill="#111" stroke="#111" stroke-width="0.179">Platelet x 1000/μL</text>
<text transform="translate(416.15,358.20) scale(1.0773,1)" font-size="7.8" fill="#111" stroke="#111" stroke-width="0.074">R=0.18,</text>
<text transform="translate(416.16,367.80) scale(1.0666,1)" font-size="7.8" fill="#111" stroke="#111" stroke-width="0.075">P=0.02</text>
<line x1="445.40" y1="405.50" x2="474.20" y2="382.00" stroke="#111" stroke-width="1.15"/>
<path d="M445.40,394.30 L446.01,394.17 L446.63,394.05 L447.24,393.91 L447.85,393.78 L448.46,393.63 L449.08,393.49 L449.69,393.33 L450.30,393.17 L450.91,393.01 L451.53,392.83 L452.14,392.64 L452.75,392.45 L453.37,392.24 L453.98,392.01 L454.59,391.77 L455.20,391.51 L455.82,391.23 L456.43,390.93 L457.04,390.60 L457.66,390.25 L458.27,389.86 L458.88,389.44 L459.49,388.99 L460.11,388.50 L460.72,387.98 L461.33,387.44 L461.94,386.86 L462.56,386.27 L463.17,385.65 L463.78,385.01 L464.40,384.34 L465.01,383.66 L465.62,382.96 L466.23,382.25 L466.85,381.52 L467.46,380.78 L468.07,380.03 L468.69,379.27 L469.30,378.50 L469.91,377.72 L470.52,376.93 L471.14,376.14 L471.75,375.34 L472.36,374.54 L472.97,373.73 L473.59,372.92 L474.20,372.10" fill="none" stroke="#4f66bb" stroke-width="1.3" stroke-dasharray="0.1 3.0" stroke-linecap="round"/>
<path d="M445.40,416.70 L446.01,415.83 L446.63,414.95 L447.24,414.09 L447.85,413.22 L448.46,412.37 L449.08,411.51 L449.69,410.67 L450.30,409.83 L450.91,408.99 L451.53,408.17 L452.14,407.36 L452.75,406.55 L453.37,405.76 L453.98,404.99 L454.59,404.23 L455.20,403.49 L455.82,402.77 L456.43,402.07 L457.04,401.40 L457.66,400.75 L458.27,400.14 L458.88,399.56 L459.49,399.01 L460.11,398.50 L460.72,398.02 L461.33,397.56 L461.94,397.14 L462.56,396.73 L463.17,396.35 L463.78,395.99 L464.40,395.66 L465.01,395.34 L465.62,395.04 L466.23,394.75 L466.85,394.48 L467.46,394.22 L468.07,393.97 L468.69,393.73 L469.30,393.50 L469.91,393.28 L470.52,393.07 L471.14,392.86 L471.75,392.66 L472.36,392.46 L472.97,392.27 L473.59,392.08 L474.20,391.90" fill="none" stroke="#4f66bb" stroke-width="1.3" stroke-dasharray="0.1 3.0" stroke-linecap="round"/>
<line x1="46.50" y1="510.50" x2="46.50" y2="609.30" stroke="#111" stroke-width="1.3"/>
<line x1="43.30" y1="609.30" x2="46.50" y2="609.30" stroke="#111" stroke-width="1.3"/>
<text transform="translate(35.34,612.09) scale(0.9300,1)" font-size="9.3" fill="#111" stroke="#111" stroke-width="0.161">2</text>
<line x1="43.30" y1="577.30" x2="46.50" y2="577.30" stroke="#111" stroke-width="1.3"/>
<text transform="translate(35.24,580.09) scale(0.9300,1)" font-size="9.3" fill="#111" stroke="#111" stroke-width="0.161">4</text>
<line x1="43.30" y1="545.30" x2="46.50" y2="545.30" stroke="#111" stroke-width="1.3"/>
<text transform="translate(35.34,548.09) scale(0.9300,1)" font-size="9.3" fill="#111" stroke="#111" stroke-width="0.161">6</text>
<line x1="43.30" y1="513.30" x2="46.50" y2="513.30" stroke="#111" stroke-width="1.3"/>
<text transform="translate(35.34,516.09) scale(0.9300,1)" font-size="9.3" fill="#111" stroke="#111" stroke-width="0.161">8</text>
<line x1="46.30" y1="609.30" x2="132.00" y2="609.30" stroke="#111" stroke-width="1.3"/>
<line x1="47.00" y1="609.30" x2="47.00" y2="612.50" stroke="#111" stroke-width="1.3"/>
<text transform="translate(44.58,623.70) scale(0.9300,1)" font-size="9.3" fill="#111" stroke="#111" stroke-width="0.161">6</text>
<line x1="74.43" y1="609.30" x2="74.43" y2="612.50" stroke="#111" stroke-width="1.3"/>
<text transform="translate(72.02,623.70) scale(0.9300,1)" font-size="9.3" fill="#111" stroke="#111" stroke-width="0.161">9</text>
<line x1="101.87" y1="609.30" x2="101.87" y2="612.50" stroke="#111" stroke-width="1.3"/>
<text transform="translate(96.90,623.70) scale(0.9300,1)" font-size="9.3" fill="#111" stroke="#111" stroke-width="0.161">12</text>
<line x1="129.30" y1="609.30" x2="129.30" y2="612.50" stroke="#111" stroke-width="1.3"/>
<text transform="translate(124.34,623.70) scale(0.9300,1)" font-size="9.3" fill="#111" stroke="#111" stroke-width="0.161">15</text>
<text transform="translate(66.31,636.80) scale(0.8703,1)" font-size="9.6" font-style="italic" fill="#111" stroke="#111" stroke-width="0.172">miR-125a-5p</text>
<text transform="translate(30.00,588.80) rotate(-90) scale(0.7795,1)" font-size="10.6" fill="#111" stroke="#111" stroke-width="0.192">WBC x 1000/μL</text>
<text transform="translate(53.17,524.30) scale(1.0545,1)" font-size="7.8" fill="#111" stroke="#111" stroke-width="0.076">R=0.05,</text>
<text transform="translate(53.17,533.90) scale(1.0539,1)" font-size="7.8" fill="#111" stroke="#111" stroke-width="0.076">P=0.55</text>
<line x1="74.40" y1="567.20" x2="103.60" y2="562.10" stroke="#111" stroke-width="1.15"/>
<path d="M74.40,558.00 L75.02,558.25 L75.64,558.49 L76.26,558.73 L76.89,558.97 L77.51,559.20 L78.13,559.43 L78.75,559.65 L79.37,559.86 L79.99,560.07 L80.61,560.27 L81.23,560.47 L81.86,560.65 L82.48,560.81 L83.10,560.96 L83.72,561.09 L84.34,561.20 L84.96,561.29 L85.58,561.35 L86.20,561.37 L86.83,561.36 L87.45,561.30 L88.07,561.21 L88.69,561.09 L89.31,560.96 L89.93,560.81 L90.55,560.64 L91.17,560.45 L91.80,560.26 L92.42,560.04 L93.04,559.82 L93.66,559.58 L94.28,559.34 L94.90,559.08 L95.52,558.82 L96.14,558.55 L96.77,558.27 L97.39,557.99 L98.01,557.69 L98.63,557.40 L99.25,557.10 L99.87,556.79 L100.49,556.49 L101.11,556.17 L101.74,555.86 L102.36,555.54 L102.98,555.22 L103.60,554.90" fill="none" stroke="#4f66bb" stroke-width="1.3" stroke-dasharray="0.1 3.0" stroke-linecap="round"/>
<path d="M74.40,576.40 L75.02,575.94 L75.64,575.48 L76.26,575.02 L76.89,574.57 L77.51,574.12 L78.13,573.67 L78.75,573.23 L79.37,572.80 L79.99,572.37 L80.61,571.96 L81.23,571.55 L81.86,571.15 L82.48,570.77 L83.10,570.40 L83.72,570.05 L84.34,569.72 L84.96,569.42 L85.58,569.15 L86.20,568.91 L86.83,568.70 L87.45,568.54 L88.07,568.41 L88.69,568.31 L89.31,568.23 L89.93,568.17 L90.55,568.12 L91.17,568.09 L91.80,568.07 L92.42,568.06 L93.04,568.07 L93.66,568.09 L94.28,568.12 L94.90,568.15 L95.52,568.20 L96.14,568.26 L96.77,568.32 L97.39,568.38 L98.01,568.46 L98.63,568.54 L99.25,568.62 L99.87,568.71 L100.49,568.80 L101.11,568.89 L101.74,568.99 L102.36,569.09 L102.98,569.19 L103.60,569.30" fill="none" stroke="#4f66bb" stroke-width="1.3" stroke-dasharray="0.1 3.0" stroke-linecap="round"/>
<line x1="232.70" y1="513.90" x2="232.70" y2="609.20" stroke="#111" stroke-width="1.3"/>
<line x1="229.50" y1="609.30" x2="232.70" y2="609.30" stroke="#111" stroke-width="1.3"/>
<text transform="translate(216.23,612.09) scale(0.9300,1)" font-size="9.3" fill="#111" stroke="#111" stroke-width="0.161">10</text>
<line x1="229.50" y1="586.22" x2="232.70" y2="586.22" stroke="#111" stroke-width="1.3"/>
<text transform="translate(216.97,589.01) scale(0.9300,1)" font-size="9.3" fill="#111" stroke="#111" stroke-width="0.161">11</text>
<line x1="229.50" y1="563.15" x2="232.70" y2="563.15" stroke="#111" stroke-width="1.3"/>
<text transform="translate(216.33,565.94) scale(0.9300,1)" font-size="9.3" fill="#111" stroke="#111" stroke-width="0.161">12</text>
<line x1="229.50" y1="540.07" x2="232.70" y2="540.07" stroke="#111" stroke-width="1.3"/>
<text transform="translate(216.33,542.86) scale(0.9300,1)" font-size="9.3" fill="#111" stroke="#111" stroke-width="0.161">13</text>
<line x1="229.50" y1="517.00" x2="232.70" y2="517.00" stroke="#111" stroke-width="1.3"/>
<text transform="translate(216.23,519.79) scale(0.9300,1)" font-size="9.3" fill="#111" stroke="#111" stroke-width="0.161">14</text>
<line x1="231.70" y1="609.20" x2="320.60" y2="609.20" stroke="#111" stroke-width="1.3"/>
<line x1="232.30" y1="609.20" x2="232.30" y2="612.40" stroke="#111" stroke-width="1.3"/>
<text transform="translate(229.88,623.60) scale(0.9300,1)" font-size="9.3" fill="#111" stroke="#111" stroke-width="0.161">6</text>
<line x1="253.70" y1="609.20" x2="253.70" y2="612.40" stroke="#111" stroke-width="1.3"/>
<text transform="translate(251.28,623.60) scale(0.9300,1)" font-size="9.3" fill="#111" stroke="#111" stroke-width="0.161">8</text>
<line x1="275.10" y1="609.20" x2="275.10" y2="612.40" stroke="#111" stroke-width="1.3"/>
<text transform="translate(270.09,623.60) scale(0.9300,1)" font-size="9.3" fill="#111" stroke="#111" stroke-width="0.161">10</text>
<line x1="296.50" y1="609.20" x2="296.50" y2="612.40" stroke="#111" stroke-width="1.3"/>
<text transform="translate(291.54,623.60) scale(0.9300,1)" font-size="9.3" fill="#111" stroke="#111" stroke-width="0.161">12</text>
<line x1="317.90" y1="609.20" x2="317.90" y2="612.40" stroke="#111" stroke-width="1.3"/>
<text transform="translate(312.89,623.60) scale(0.9300,1)" font-size="9.3" fill="#111" stroke="#111" stroke-width="0.161">14</text>
<text transform="translate(252.51,637.60) scale(0.8649,1)" font-size="9.6" font-style="italic" fill="#111" stroke="#111" stroke-width="0.173">miR-125a-5p</text>
<text transform="translate(210.20,577.64) rotate(-90) scale(0.8056,1)" font-size="10.4" fill="#111" stroke="#111" stroke-width="0.186">Hb, g/dL</text>
<text transform="translate(238.87,524.50) scale(1.0545,1)" font-size="7.8" fill="#111" stroke="#111" stroke-width="0.076">R=0.05,</text>
<text transform="translate(238.87,533.90) scale(1.0454,1)" font-size="7.8" fill="#111" stroke="#111" stroke-width="0.077">P=0.54</text>
<line x1="264.40" y1="555.60" x2="298.80" y2="562.70" stroke="#111" stroke-width="1.15"/>
<path d="M264.40,542.50 L265.13,543.12 L265.86,543.74 L266.60,544.35 L267.33,544.97 L268.06,545.57 L268.79,546.18 L269.52,546.77 L270.26,547.36 L270.99,547.95 L271.72,548.52 L272.45,549.09 L273.18,549.65 L273.91,550.19 L274.65,550.72 L275.38,551.23 L276.11,551.72 L276.84,552.18 L277.57,552.62 L278.31,553.03 L279.04,553.40 L279.77,553.73 L280.50,554.01 L281.23,554.25 L281.97,554.43 L282.70,554.56 L283.43,554.65 L284.16,554.70 L284.89,554.72 L285.63,554.70 L286.36,554.65 L287.09,554.57 L287.82,554.47 L288.55,554.34 L289.29,554.20 L290.02,554.04 L290.75,553.87 L291.48,553.68 L292.21,553.48 L292.94,553.28 L293.68,553.06 L294.41,552.84 L295.14,552.61 L295.87,552.38 L296.60,552.14 L297.34,551.90 L298.07,551.65 L298.80,551.40" fill="none" stroke="#4f66bb" stroke-width="1.3" stroke-dasharray="0.1 3.0" stroke-linecap="round"/>
<path d="M264.40,568.70 L265.13,568.38 L265.86,568.06 L266.60,567.75 L267.33,567.44 L268.06,567.14 L268.79,566.84 L269.52,566.54 L270.26,566.25 L270.99,565.97 L271.72,565.70 L272.45,565.43 L273.18,565.18 L273.91,564.94 L274.65,564.71 L275.38,564.50 L276.11,564.32 L276.84,564.15 L277.57,564.01 L278.31,563.91 L279.04,563.84 L279.77,563.81 L280.50,563.83 L281.23,563.90 L281.97,564.03 L282.70,564.20 L283.43,564.41 L284.16,564.66 L284.89,564.94 L285.63,565.26 L286.36,565.62 L287.09,566.00 L287.82,566.40 L288.55,566.83 L289.29,567.27 L290.02,567.73 L290.75,568.21 L291.48,568.70 L292.21,569.20 L292.94,569.70 L293.68,570.22 L294.41,570.75 L295.14,571.28 L295.87,571.81 L296.60,572.35 L297.34,572.90 L298.07,573.45 L298.80,574.00" fill="none" stroke="#4f66bb" stroke-width="1.3" stroke-dasharray="0.1 3.0" stroke-linecap="round"/>
<rect x="0.6" y="0.6" width="518.8" height="646.8" fill="none" stroke="#000" stroke-width="1.4"/>
</svg>
</body></html>
